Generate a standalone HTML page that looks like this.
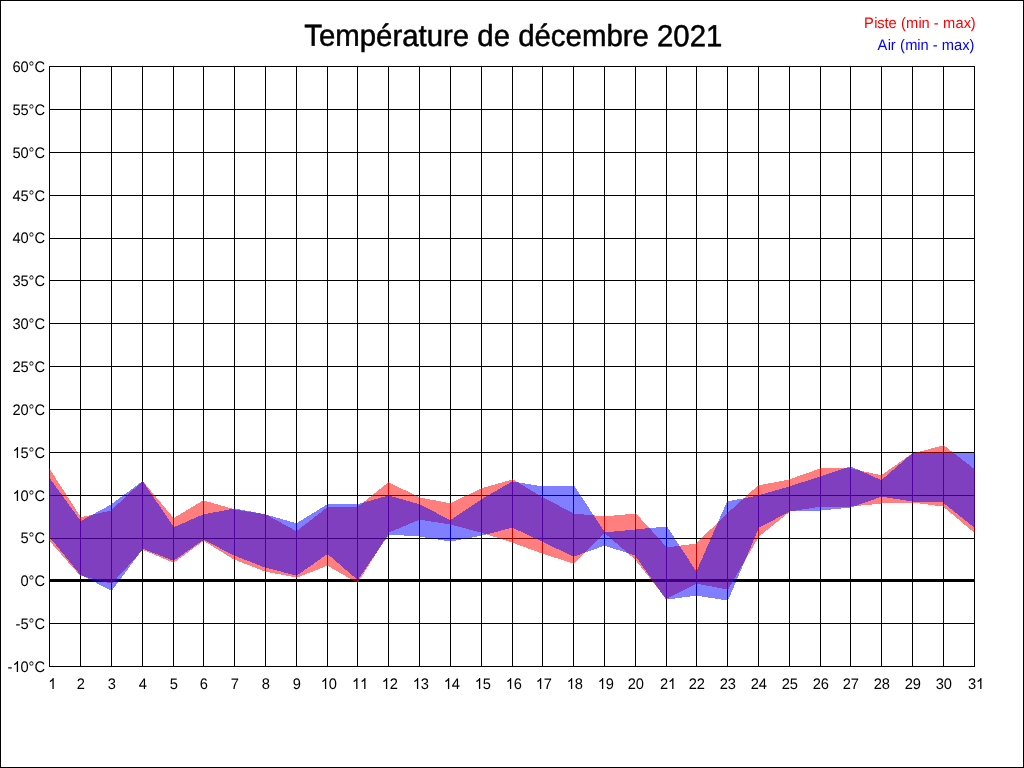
<!DOCTYPE html>
<html><head><meta charset="utf-8">
<style>
html,body{margin:0;padding:0;background:#fff;}
body{width:1024px;height:768px;overflow:hidden;position:relative;}
svg{position:absolute;left:0;top:0;}
#t{will-change:transform;}
text{font-family:"Liberation Sans",sans-serif;}
</style></head><body>
<svg width="1024" height="768" viewBox="0 0 1024 768">
<rect x="0" y="0" width="1024" height="768" fill="#fff"/>
<g fill="#000" shape-rendering="crispEdges">
<rect x="0" y="0" width="1024" height="1"/>
<rect x="0" y="767" width="1024" height="1"/>
<rect x="0" y="0" width="1" height="768"/>
<rect x="1023" y="0" width="1" height="768"/>
<rect x="49" y="66" width="1" height="601"/><rect x="80" y="66" width="1" height="601"/><rect x="111" y="66" width="1" height="601"/><rect x="142" y="66" width="1" height="601"/><rect x="173" y="66" width="1" height="601"/><rect x="203" y="66" width="1" height="601"/><rect x="234" y="66" width="1" height="601"/><rect x="265" y="66" width="1" height="601"/><rect x="296" y="66" width="1" height="601"/><rect x="327" y="66" width="1" height="601"/><rect x="357" y="66" width="1" height="601"/><rect x="388" y="66" width="1" height="601"/><rect x="419" y="66" width="1" height="601"/><rect x="450" y="66" width="1" height="601"/><rect x="481" y="66" width="1" height="601"/><rect x="512" y="66" width="1" height="601"/><rect x="542" y="66" width="1" height="601"/><rect x="573" y="66" width="1" height="601"/><rect x="604" y="66" width="1" height="601"/><rect x="635" y="66" width="1" height="601"/><rect x="666" y="66" width="1" height="601"/><rect x="696" y="66" width="1" height="601"/><rect x="727" y="66" width="1" height="601"/><rect x="758" y="66" width="1" height="601"/><rect x="789" y="66" width="1" height="601"/><rect x="820" y="66" width="1" height="601"/><rect x="850" y="66" width="1" height="601"/><rect x="881" y="66" width="1" height="601"/><rect x="912" y="66" width="1" height="601"/><rect x="943" y="66" width="1" height="601"/><rect x="974" y="66" width="1" height="601"/><rect x="49" y="66" width="926" height="1"/><rect x="49" y="109" width="926" height="1"/><rect x="49" y="152" width="926" height="1"/><rect x="49" y="195" width="926" height="1"/><rect x="49" y="238" width="926" height="1"/><rect x="49" y="280" width="926" height="1"/><rect x="49" y="323" width="926" height="1"/><rect x="49" y="366" width="926" height="1"/><rect x="49" y="409" width="926" height="1"/><rect x="49" y="452" width="926" height="1"/><rect x="49" y="495" width="926" height="1"/><rect x="49" y="538" width="926" height="1"/><rect x="49" y="579" width="926" height="3"/><rect x="49" y="623" width="926" height="1"/><rect x="49" y="666" width="926" height="1"/>
</g>
<g shape-rendering="crispEdges">
<path fill="rgba(255,0,0,0.5)" d="M49 469h1v1h-1zM49 470h2v1h-2zM49 471h2v1h-2zM49 472h3v1h-3zM49 473h4v1h-4zM49 474h4v1h-4zM49 475h5v1h-5zM49 476h6v1h-6zM49 477h6v1h-6zM49 478h7v1h-7zM49 479h7v1h-7zM49 480h8v1h-8zM49 481h9v1h-9zM49 482h9v1h-9zM49 483h10v1h-10zM49 484h11v1h-11zM49 485h11v1h-11zM49 486h12v1h-12zM49 487h13v1h-13zM49 488h13v1h-13zM49 489h14v1h-14zM49 490h15v1h-15zM49 491h15v1h-15zM49 492h16v1h-16zM49 493h17v1h-17zM49 494h17v1h-17zM49 495h18v1h-18zM49 496h18v1h-18zM49 497h19v1h-19zM49 498h20v1h-20zM49 499h20v1h-20zM49 500h21v1h-21zM49 501h22v1h-22zM49 502h22v1h-22zM49 503h23v1h-23zM49 504h24v1h-24zM49 505h24v1h-24zM49 506h25v1h-25zM49 507h26v1h-26zM49 508h26v1h-26zM49 509h27v1h-27zM49 510h27v1h-27zM49 511h28v1h-28zM49 512h29v1h-29zM49 513h29v1h-29zM49 514h30v1h-30zM49 515h31v1h-31zM49 516h31v1h-31zM49 517h32v1h-32zM49 518h32v1h-32zM49 519h32v1h-32zM49 520h32v1h-32zM49 521h32v1h-32zM49 522h32v1h-32zM49 523h32v1h-32zM49 524h32v1h-32zM49 525h32v1h-32zM49 526h32v1h-32zM49 527h32v1h-32zM49 528h32v1h-32zM49 529h32v1h-32zM49 530h32v1h-32zM49 531h32v1h-32zM49 532h32v1h-32zM49 533h32v1h-32zM49 534h32v1h-32zM49 535h32v1h-32zM49 536h32v1h-32zM49 537h32v1h-32zM49 538h32v1h-32zM49 539h32v1h-32zM49 540h32v1h-32zM50 541h31v1h-31zM51 542h30v1h-30zM52 543h29v1h-29zM53 544h28v1h-28zM53 545h28v1h-28zM54 546h27v1h-27zM55 547h26v1h-26zM56 548h25v1h-25zM57 549h24v1h-24zM58 550h23v1h-23zM59 551h22v1h-22zM60 552h21v1h-21zM61 553h20v1h-20zM61 554h20v1h-20zM62 555h19v1h-19zM63 556h18v1h-18zM64 557h17v1h-17zM65 558h16v1h-16zM66 559h15v1h-15zM67 560h14v1h-14zM68 561h13v1h-13zM68 562h13v1h-13zM69 563h12v1h-12zM70 564h11v1h-11zM71 565h10v1h-10zM72 566h9v1h-9zM73 567h8v1h-8zM74 568h7v1h-7zM75 569h6v1h-6zM76 570h5v1h-5zM76 571h5v1h-5zM77 572h4v1h-4zM78 573h3v1h-3zM79 574h2v1h-2zM80 575h1v1h-1z"/>
<path fill="rgba(0,0,255,0.5)" d="M49 478h1v1h-1zM49 479h2v1h-2zM49 480h2v1h-2zM49 481h3v1h-3zM49 482h4v1h-4zM49 483h5v1h-5zM49 484h5v1h-5zM49 485h6v1h-6zM49 486h7v1h-7zM49 487h7v1h-7zM49 488h8v1h-8zM49 489h9v1h-9zM49 490h10v1h-10zM49 491h10v1h-10zM49 492h11v1h-11zM49 493h12v1h-12zM49 494h13v1h-13zM49 495h13v1h-13zM49 496h14v1h-14zM49 497h15v1h-15zM49 498h15v1h-15zM49 499h16v1h-16zM49 500h17v1h-17zM49 501h18v1h-18zM49 502h18v1h-18zM49 503h19v1h-19zM49 504h20v1h-20zM49 505h20v1h-20zM49 506h21v1h-21zM49 507h22v1h-22zM49 508h23v1h-23zM49 509h23v1h-23zM49 510h24v1h-24zM49 511h25v1h-25zM49 512h26v1h-26zM49 513h26v1h-26zM49 514h27v1h-27zM49 515h28v1h-28zM49 516h28v1h-28zM49 517h29v1h-29zM49 518h30v1h-30zM49 519h31v1h-31zM49 520h31v1h-31zM49 521h32v1h-32zM49 522h32v1h-32zM49 523h32v1h-32zM49 524h32v1h-32zM49 525h32v1h-32zM49 526h32v1h-32zM49 527h32v1h-32zM49 528h32v1h-32zM49 529h32v1h-32zM49 530h32v1h-32zM49 531h32v1h-32zM49 532h32v1h-32zM49 533h32v1h-32zM49 534h32v1h-32zM49 535h32v1h-32zM49 536h32v1h-32zM50 537h31v1h-31zM51 538h30v1h-30zM51 539h30v1h-30zM52 540h29v1h-29zM53 541h28v1h-28zM54 542h27v1h-27zM55 543h26v1h-26zM56 544h25v1h-25zM56 545h25v1h-25zM57 546h24v1h-24zM58 547h23v1h-23zM59 548h22v1h-22zM60 549h21v1h-21zM60 550h21v1h-21zM61 551h20v1h-20zM62 552h19v1h-19zM63 553h18v1h-18zM64 554h17v1h-17zM65 555h16v1h-16zM65 556h16v1h-16zM66 557h15v1h-15zM67 558h14v1h-14zM68 559h13v1h-13zM69 560h12v1h-12zM69 561h12v1h-12zM70 562h11v1h-11zM71 563h10v1h-10zM72 564h9v1h-9zM73 565h8v1h-8zM73 566h8v1h-8zM74 567h7v1h-7zM75 568h6v1h-6zM76 569h5v1h-5zM77 570h4v1h-4zM78 571h3v1h-3zM78 572h3v1h-3zM79 573h2v1h-2zM80 574h1v1h-1z"/>
<path fill="rgba(255,0,0,0.5)" d="M111 510h1v1h-1zM107 511h5v1h-5zM102 512h10v1h-10zM98 513h14v1h-14zM93 514h19v1h-19zM89 515h23v1h-23zM84 516h28v1h-28zM80 517h32v1h-32zM80 518h32v1h-32zM80 519h32v1h-32zM80 520h32v1h-32zM80 521h32v1h-32zM80 522h32v1h-32zM80 523h32v1h-32zM80 524h32v1h-32zM80 525h32v1h-32zM80 526h32v1h-32zM80 527h32v1h-32zM80 528h32v1h-32zM80 529h32v1h-32zM80 530h32v1h-32zM80 531h32v1h-32zM80 532h32v1h-32zM80 533h32v1h-32zM80 534h32v1h-32zM80 535h32v1h-32zM80 536h32v1h-32zM80 537h32v1h-32zM80 538h32v1h-32zM80 539h32v1h-32zM80 540h32v1h-32zM80 541h32v1h-32zM80 542h32v1h-32zM80 543h32v1h-32zM80 544h32v1h-32zM80 545h32v1h-32zM80 546h32v1h-32zM80 547h32v1h-32zM80 548h32v1h-32zM80 549h32v1h-32zM80 550h32v1h-32zM80 551h32v1h-32zM80 552h32v1h-32zM80 553h32v1h-32zM80 554h32v1h-32zM80 555h32v1h-32zM80 556h32v1h-32zM80 557h32v1h-32zM80 558h32v1h-32zM80 559h32v1h-32zM80 560h32v1h-32zM80 561h32v1h-32zM80 562h32v1h-32zM80 563h32v1h-32zM80 564h32v1h-32zM80 565h32v1h-32zM80 566h32v1h-32zM80 567h32v1h-32zM80 568h32v1h-32zM80 569h32v1h-32zM80 570h32v1h-32zM80 571h32v1h-32zM80 572h32v1h-32zM80 573h32v1h-32zM80 574h32v1h-32zM80 575h32v1h-32zM84 576h28v1h-28zM88 577h24v1h-24zM92 578h20v1h-20zM96 579h16v1h-16zM99 580h13v1h-13zM103 581h9v1h-9zM107 582h5v1h-5zM111 583h1v1h-1z"/>
<path fill="rgba(0,0,255,0.5)" d="M111 504h1v1h-1zM109 505h3v1h-3zM107 506h5v1h-5zM106 507h6v1h-6zM104 508h8v1h-8zM102 509h10v1h-10zM100 510h12v1h-12zM98 511h14v1h-14zM96 512h16v1h-16zM95 513h17v1h-17zM93 514h19v1h-19zM91 515h21v1h-21zM89 516h23v1h-23zM87 517h25v1h-25zM85 518h27v1h-27zM84 519h28v1h-28zM82 520h30v1h-30zM80 521h32v1h-32zM80 522h32v1h-32zM80 523h32v1h-32zM80 524h32v1h-32zM80 525h32v1h-32zM80 526h32v1h-32zM80 527h32v1h-32zM80 528h32v1h-32zM80 529h32v1h-32zM80 530h32v1h-32zM80 531h32v1h-32zM80 532h32v1h-32zM80 533h32v1h-32zM80 534h32v1h-32zM80 535h32v1h-32zM80 536h32v1h-32zM80 537h32v1h-32zM80 538h32v1h-32zM80 539h32v1h-32zM80 540h32v1h-32zM80 541h32v1h-32zM80 542h32v1h-32zM80 543h32v1h-32zM80 544h32v1h-32zM80 545h32v1h-32zM80 546h32v1h-32zM80 547h32v1h-32zM80 548h32v1h-32zM80 549h32v1h-32zM80 550h32v1h-32zM80 551h32v1h-32zM80 552h32v1h-32zM80 553h32v1h-32zM80 554h32v1h-32zM80 555h32v1h-32zM80 556h32v1h-32zM80 557h32v1h-32zM80 558h32v1h-32zM80 559h32v1h-32zM80 560h32v1h-32zM80 561h32v1h-32zM80 562h32v1h-32zM80 563h32v1h-32zM80 564h32v1h-32zM80 565h32v1h-32zM80 566h32v1h-32zM80 567h32v1h-32zM80 568h32v1h-32zM80 569h32v1h-32zM80 570h32v1h-32zM80 571h32v1h-32zM80 572h32v1h-32zM80 573h32v1h-32zM80 574h32v1h-32zM82 575h30v1h-30zM84 576h28v1h-28zM86 577h26v1h-26zM88 578h24v1h-24zM90 579h22v1h-22zM92 580h20v1h-20zM94 581h18v1h-18zM96 582h16v1h-16zM97 583h15v1h-15zM99 584h13v1h-13zM101 585h11v1h-11zM103 586h9v1h-9zM105 587h7v1h-7zM107 588h5v1h-5zM109 589h3v1h-3zM111 590h1v1h-1z"/>
<path fill="rgba(255,0,0,0.5)" d="M142 481h1v1h-1zM141 482h2v1h-2zM140 483h3v1h-3zM139 484h4v1h-4zM138 485h5v1h-5zM137 486h6v1h-6zM136 487h7v1h-7zM135 488h8v1h-8zM133 489h10v1h-10zM132 490h11v1h-11zM131 491h12v1h-12zM130 492h13v1h-13zM129 493h14v1h-14zM128 494h15v1h-15zM127 495h16v1h-16zM126 496h17v1h-17zM125 497h18v1h-18zM124 498h19v1h-19zM123 499h20v1h-20zM122 500h21v1h-21zM121 501h22v1h-22zM120 502h23v1h-23zM118 503h25v1h-25zM117 504h26v1h-26zM116 505h27v1h-27zM115 506h28v1h-28zM114 507h29v1h-29zM113 508h30v1h-30zM112 509h31v1h-31zM111 510h32v1h-32zM111 511h32v1h-32zM111 512h32v1h-32zM111 513h32v1h-32zM111 514h32v1h-32zM111 515h32v1h-32zM111 516h32v1h-32zM111 517h32v1h-32zM111 518h32v1h-32zM111 519h32v1h-32zM111 520h32v1h-32zM111 521h32v1h-32zM111 522h32v1h-32zM111 523h32v1h-32zM111 524h32v1h-32zM111 525h32v1h-32zM111 526h32v1h-32zM111 527h32v1h-32zM111 528h32v1h-32zM111 529h32v1h-32zM111 530h32v1h-32zM111 531h32v1h-32zM111 532h32v1h-32zM111 533h32v1h-32zM111 534h32v1h-32zM111 535h32v1h-32zM111 536h32v1h-32zM111 537h32v1h-32zM111 538h32v1h-32zM111 539h32v1h-32zM111 540h32v1h-32zM111 541h32v1h-32zM111 542h32v1h-32zM111 543h32v1h-32zM111 544h32v1h-32zM111 545h32v1h-32zM111 546h32v1h-32zM111 547h32v1h-32zM111 548h32v1h-32zM111 549h32v1h-32zM111 550h31v1h-31zM111 551h30v1h-30zM111 552h29v1h-29zM111 553h28v1h-28zM111 554h27v1h-27zM111 555h27v1h-27zM111 556h26v1h-26zM111 557h25v1h-25zM111 558h24v1h-24zM111 559h23v1h-23zM111 560h22v1h-22zM111 561h21v1h-21zM111 562h20v1h-20zM111 563h19v1h-19zM111 564h18v1h-18zM111 565h17v1h-17zM111 566h17v1h-17zM111 567h16v1h-16zM111 568h15v1h-15zM111 569h14v1h-14zM111 570h13v1h-13zM111 571h12v1h-12zM111 572h11v1h-11zM111 573h10v1h-10zM111 574h9v1h-9zM111 575h8v1h-8zM111 576h7v1h-7zM111 577h6v1h-6zM111 578h6v1h-6zM111 579h5v1h-5zM111 580h4v1h-4zM111 581h3v1h-3zM111 582h2v1h-2zM111 583h1v1h-1z"/>
<path fill="rgba(0,0,255,0.5)" d="M142 481h1v1h-1zM141 482h2v1h-2zM139 483h4v1h-4zM138 484h5v1h-5zM137 485h6v1h-6zM135 486h8v1h-8zM134 487h9v1h-9zM133 488h10v1h-10zM131 489h12v1h-12zM130 490h13v1h-13zM129 491h14v1h-14zM127 492h16v1h-16zM126 493h17v1h-17zM124 494h19v1h-19zM123 495h20v1h-20zM122 496h21v1h-21zM120 497h23v1h-23zM119 498h24v1h-24zM118 499h25v1h-25zM116 500h27v1h-27zM115 501h28v1h-28zM114 502h29v1h-29zM112 503h31v1h-31zM111 504h32v1h-32zM111 505h32v1h-32zM111 506h32v1h-32zM111 507h32v1h-32zM111 508h32v1h-32zM111 509h32v1h-32zM111 510h32v1h-32zM111 511h32v1h-32zM111 512h32v1h-32zM111 513h32v1h-32zM111 514h32v1h-32zM111 515h32v1h-32zM111 516h32v1h-32zM111 517h32v1h-32zM111 518h32v1h-32zM111 519h32v1h-32zM111 520h32v1h-32zM111 521h32v1h-32zM111 522h32v1h-32zM111 523h32v1h-32zM111 524h32v1h-32zM111 525h32v1h-32zM111 526h32v1h-32zM111 527h32v1h-32zM111 528h32v1h-32zM111 529h32v1h-32zM111 530h32v1h-32zM111 531h32v1h-32zM111 532h32v1h-32zM111 533h32v1h-32zM111 534h32v1h-32zM111 535h32v1h-32zM111 536h32v1h-32zM111 537h32v1h-32zM111 538h32v1h-32zM111 539h32v1h-32zM111 540h32v1h-32zM111 541h32v1h-32zM111 542h32v1h-32zM111 543h32v1h-32zM111 544h32v1h-32zM111 545h32v1h-32zM111 546h32v1h-32zM111 547h32v1h-32zM111 548h32v1h-32zM111 549h31v1h-31zM111 550h31v1h-31zM111 551h30v1h-30zM111 552h29v1h-29zM111 553h28v1h-28zM111 554h28v1h-28zM111 555h27v1h-27zM111 556h26v1h-26zM111 557h25v1h-25zM111 558h25v1h-25zM111 559h24v1h-24zM111 560h23v1h-23zM111 561h22v1h-22zM111 562h22v1h-22zM111 563h21v1h-21zM111 564h20v1h-20zM111 565h19v1h-19zM111 566h19v1h-19zM111 567h18v1h-18zM111 568h17v1h-17zM111 569h17v1h-17zM111 570h16v1h-16zM111 571h15v1h-15zM111 572h14v1h-14zM111 573h14v1h-14zM111 574h13v1h-13zM111 575h12v1h-12zM111 576h11v1h-11zM111 577h11v1h-11zM111 578h10v1h-10zM111 579h9v1h-9zM111 580h8v1h-8zM111 581h8v1h-8zM111 582h7v1h-7zM111 583h6v1h-6zM111 584h5v1h-5zM111 585h5v1h-5zM111 586h4v1h-4zM111 587h3v1h-3zM111 588h2v1h-2zM111 589h2v1h-2zM111 590h1v1h-1z"/>
<path fill="rgba(255,0,0,0.5)" d="M142 481h1v1h-1zM142 482h2v1h-2zM142 483h3v1h-3zM142 484h4v1h-4zM142 485h4v1h-4zM142 486h5v1h-5zM142 487h6v1h-6zM142 488h7v1h-7zM142 489h8v1h-8zM142 490h9v1h-9zM142 491h9v1h-9zM142 492h10v1h-10zM142 493h11v1h-11zM142 494h12v1h-12zM142 495h13v1h-13zM142 496h14v1h-14zM142 497h14v1h-14zM142 498h15v1h-15zM142 499h16v1h-16zM142 500h17v1h-17zM142 501h18v1h-18zM142 502h19v1h-19zM142 503h19v1h-19zM142 504h20v1h-20zM142 505h21v1h-21zM142 506h22v1h-22zM142 507h23v1h-23zM142 508h24v1h-24zM142 509h24v1h-24zM142 510h25v1h-25zM142 511h26v1h-26zM142 512h27v1h-27zM142 513h28v1h-28zM142 514h29v1h-29zM142 515h29v1h-29zM142 516h30v1h-30zM142 517h31v1h-31zM142 518h32v1h-32zM142 519h32v1h-32zM142 520h32v1h-32zM142 521h32v1h-32zM142 522h32v1h-32zM142 523h32v1h-32zM142 524h32v1h-32zM142 525h32v1h-32zM142 526h32v1h-32zM142 527h32v1h-32zM142 528h32v1h-32zM142 529h32v1h-32zM142 530h32v1h-32zM142 531h32v1h-32zM142 532h32v1h-32zM142 533h32v1h-32zM142 534h32v1h-32zM142 535h32v1h-32zM142 536h32v1h-32zM142 537h32v1h-32zM142 538h32v1h-32zM142 539h32v1h-32zM142 540h32v1h-32zM142 541h32v1h-32zM142 542h32v1h-32zM142 543h32v1h-32zM142 544h32v1h-32zM142 545h32v1h-32zM142 546h32v1h-32zM142 547h32v1h-32zM142 548h32v1h-32zM142 549h32v1h-32zM144 550h30v1h-30zM147 551h27v1h-27zM149 552h25v1h-25zM152 553h22v1h-22zM154 554h20v1h-20zM156 555h18v1h-18zM159 556h15v1h-15zM161 557h13v1h-13zM163 558h11v1h-11zM166 559h8v1h-8zM168 560h6v1h-6zM171 561h3v1h-3zM173 562h1v1h-1z"/>
<path fill="rgba(0,0,255,0.5)" d="M142 481h1v1h-1zM142 482h2v1h-2zM142 483h2v1h-2zM142 484h3v1h-3zM142 485h4v1h-4zM142 486h4v1h-4zM142 487h5v1h-5zM142 488h6v1h-6zM142 489h6v1h-6zM142 490h7v1h-7zM142 491h8v1h-8zM142 492h8v1h-8zM142 493h9v1h-9zM142 494h10v1h-10zM142 495h10v1h-10zM142 496h11v1h-11zM142 497h12v1h-12zM142 498h12v1h-12zM142 499h13v1h-13zM142 500h14v1h-14zM142 501h14v1h-14zM142 502h15v1h-15zM142 503h16v1h-16zM142 504h17v1h-17zM142 505h17v1h-17zM142 506h18v1h-18zM142 507h19v1h-19zM142 508h19v1h-19zM142 509h20v1h-20zM142 510h21v1h-21zM142 511h21v1h-21zM142 512h22v1h-22zM142 513h23v1h-23zM142 514h23v1h-23zM142 515h24v1h-24zM142 516h25v1h-25zM142 517h25v1h-25zM142 518h26v1h-26zM142 519h27v1h-27zM142 520h27v1h-27zM142 521h28v1h-28zM142 522h29v1h-29zM142 523h29v1h-29zM142 524h30v1h-30zM142 525h31v1h-31zM142 526h31v1h-31zM142 527h32v1h-32zM142 528h32v1h-32zM142 529h32v1h-32zM142 530h32v1h-32zM142 531h32v1h-32zM142 532h32v1h-32zM142 533h32v1h-32zM142 534h32v1h-32zM142 535h32v1h-32zM142 536h32v1h-32zM142 537h32v1h-32zM142 538h32v1h-32zM142 539h32v1h-32zM142 540h32v1h-32zM142 541h32v1h-32zM142 542h32v1h-32zM142 543h32v1h-32zM142 544h32v1h-32zM142 545h32v1h-32zM142 546h32v1h-32zM142 547h32v1h-32zM142 548h32v1h-32zM145 549h29v1h-29zM147 550h27v1h-27zM150 551h24v1h-24zM152 552h22v1h-22zM155 553h19v1h-19zM158 554h16v1h-16zM160 555h14v1h-14zM163 556h11v1h-11zM165 557h9v1h-9zM168 558h6v1h-6zM170 559h4v1h-4zM173 560h1v1h-1z"/>
<path fill="rgba(255,0,0,0.5)" d="M203 500h1v1h-1zM201 501h3v1h-3zM200 502h4v1h-4zM198 503h6v1h-6zM196 504h8v1h-8zM195 505h9v1h-9zM193 506h11v1h-11zM191 507h13v1h-13zM190 508h14v1h-14zM188 509h16v1h-16zM186 510h18v1h-18zM185 511h19v1h-19zM183 512h21v1h-21zM181 513h23v1h-23zM180 514h24v1h-24zM178 515h26v1h-26zM176 516h28v1h-28zM175 517h29v1h-29zM173 518h31v1h-31zM173 519h31v1h-31zM173 520h31v1h-31zM173 521h31v1h-31zM173 522h31v1h-31zM173 523h31v1h-31zM173 524h31v1h-31zM173 525h31v1h-31zM173 526h31v1h-31zM173 527h31v1h-31zM173 528h31v1h-31zM173 529h31v1h-31zM173 530h31v1h-31zM173 531h31v1h-31zM173 532h31v1h-31zM173 533h31v1h-31zM173 534h31v1h-31zM173 535h31v1h-31zM173 536h31v1h-31zM173 537h31v1h-31zM173 538h31v1h-31zM173 539h31v1h-31zM173 540h31v1h-31zM173 541h30v1h-30zM173 542h28v1h-28zM173 543h27v1h-27zM173 544h26v1h-26zM173 545h24v1h-24zM173 546h23v1h-23zM173 547h21v1h-21zM173 548h20v1h-20zM173 549h19v1h-19zM173 550h17v1h-17zM173 551h16v1h-16zM173 552h15v1h-15zM173 553h13v1h-13zM173 554h12v1h-12zM173 555h11v1h-11zM173 556h9v1h-9zM173 557h8v1h-8zM173 558h6v1h-6zM173 559h5v1h-5zM173 560h4v1h-4zM173 561h2v1h-2zM173 562h1v1h-1z"/>
<path fill="rgba(0,0,255,0.5)" d="M203 514h1v1h-1zM201 515h3v1h-3zM198 516h6v1h-6zM196 517h8v1h-8zM194 518h10v1h-10zM191 519h13v1h-13zM189 520h15v1h-15zM187 521h17v1h-17zM185 522h19v1h-19zM182 523h22v1h-22zM180 524h24v1h-24zM178 525h26v1h-26zM175 526h29v1h-29zM173 527h31v1h-31zM173 528h31v1h-31zM173 529h31v1h-31zM173 530h31v1h-31zM173 531h31v1h-31zM173 532h31v1h-31zM173 533h31v1h-31zM173 534h31v1h-31zM173 535h31v1h-31zM173 536h31v1h-31zM173 537h31v1h-31zM173 538h31v1h-31zM173 539h31v1h-31zM173 540h30v1h-30zM173 541h28v1h-28zM173 542h27v1h-27zM173 543h25v1h-25zM173 544h24v1h-24zM173 545h22v1h-22zM173 546h21v1h-21zM173 547h20v1h-20zM173 548h18v1h-18zM173 549h17v1h-17zM173 550h15v1h-15zM173 551h14v1h-14zM173 552h12v1h-12zM173 553h11v1h-11zM173 554h10v1h-10zM173 555h8v1h-8zM173 556h7v1h-7zM173 557h5v1h-5zM173 558h4v1h-4zM173 559h2v1h-2zM173 560h1v1h-1z"/>
<path fill="rgba(255,0,0,0.5)" d="M203 500h1v1h-1zM203 501h4v1h-4zM203 502h8v1h-8zM203 503h11v1h-11zM203 504h15v1h-15zM203 505h18v1h-18zM203 506h22v1h-22zM203 507h25v1h-25zM203 508h29v1h-29zM203 509h32v1h-32zM203 510h32v1h-32zM203 511h32v1h-32zM203 512h32v1h-32zM203 513h32v1h-32zM203 514h32v1h-32zM203 515h32v1h-32zM203 516h32v1h-32zM203 517h32v1h-32zM203 518h32v1h-32zM203 519h32v1h-32zM203 520h32v1h-32zM203 521h32v1h-32zM203 522h32v1h-32zM203 523h32v1h-32zM203 524h32v1h-32zM203 525h32v1h-32zM203 526h32v1h-32zM203 527h32v1h-32zM203 528h32v1h-32zM203 529h32v1h-32zM203 530h32v1h-32zM203 531h32v1h-32zM203 532h32v1h-32zM203 533h32v1h-32zM203 534h32v1h-32zM203 535h32v1h-32zM203 536h32v1h-32zM203 537h32v1h-32zM203 538h32v1h-32zM203 539h32v1h-32zM203 540h32v1h-32zM205 541h30v1h-30zM206 542h29v1h-29zM208 543h27v1h-27zM210 544h25v1h-25zM211 545h24v1h-24zM213 546h22v1h-22zM214 547h21v1h-21zM216 548h19v1h-19zM218 549h17v1h-17zM219 550h16v1h-16zM221 551h14v1h-14zM223 552h12v1h-12zM224 553h11v1h-11zM226 554h9v1h-9zM227 555h8v1h-8zM229 556h6v1h-6zM231 557h4v1h-4zM232 558h3v1h-3zM234 559h1v1h-1z"/>
<path fill="rgba(0,0,255,0.5)" d="M234 508h1v1h-1zM229 509h6v1h-6zM224 510h11v1h-11zM219 511h16v1h-16zM213 512h22v1h-22zM208 513h27v1h-27zM203 514h32v1h-32zM203 515h32v1h-32zM203 516h32v1h-32zM203 517h32v1h-32zM203 518h32v1h-32zM203 519h32v1h-32zM203 520h32v1h-32zM203 521h32v1h-32zM203 522h32v1h-32zM203 523h32v1h-32zM203 524h32v1h-32zM203 525h32v1h-32zM203 526h32v1h-32zM203 527h32v1h-32zM203 528h32v1h-32zM203 529h32v1h-32zM203 530h32v1h-32zM203 531h32v1h-32zM203 532h32v1h-32zM203 533h32v1h-32zM203 534h32v1h-32zM203 535h32v1h-32zM203 536h32v1h-32zM203 537h32v1h-32zM203 538h32v1h-32zM203 539h32v1h-32zM205 540h30v1h-30zM207 541h28v1h-28zM209 542h26v1h-26zM211 543h24v1h-24zM213 544h22v1h-22zM215 545h20v1h-20zM217 546h18v1h-18zM219 547h16v1h-16zM220 548h15v1h-15zM222 549h13v1h-13zM224 550h11v1h-11zM226 551h9v1h-9zM228 552h7v1h-7zM230 553h5v1h-5zM232 554h3v1h-3zM234 555h1v1h-1z"/>
<path fill="rgba(255,0,0,0.5)" d="M234 509h1v1h-1zM234 510h7v1h-7zM234 511h13v1h-13zM234 512h20v1h-20zM234 513h26v1h-26zM234 514h32v1h-32zM234 515h32v1h-32zM234 516h32v1h-32zM234 517h32v1h-32zM234 518h32v1h-32zM234 519h32v1h-32zM234 520h32v1h-32zM234 521h32v1h-32zM234 522h32v1h-32zM234 523h32v1h-32zM234 524h32v1h-32zM234 525h32v1h-32zM234 526h32v1h-32zM234 527h32v1h-32zM234 528h32v1h-32zM234 529h32v1h-32zM234 530h32v1h-32zM234 531h32v1h-32zM234 532h32v1h-32zM234 533h32v1h-32zM234 534h32v1h-32zM234 535h32v1h-32zM234 536h32v1h-32zM234 537h32v1h-32zM234 538h32v1h-32zM234 539h32v1h-32zM234 540h32v1h-32zM234 541h32v1h-32zM234 542h32v1h-32zM234 543h32v1h-32zM234 544h32v1h-32zM234 545h32v1h-32zM234 546h32v1h-32zM234 547h32v1h-32zM234 548h32v1h-32zM234 549h32v1h-32zM234 550h32v1h-32zM234 551h32v1h-32zM234 552h32v1h-32zM234 553h32v1h-32zM234 554h32v1h-32zM234 555h32v1h-32zM234 556h32v1h-32zM234 557h32v1h-32zM234 558h32v1h-32zM234 559h32v1h-32zM237 560h29v1h-29zM239 561h27v1h-27zM242 562h24v1h-24zM244 563h22v1h-22zM247 564h19v1h-19zM250 565h16v1h-16zM252 566h14v1h-14zM255 567h11v1h-11zM257 568h9v1h-9zM260 569h6v1h-6zM262 570h4v1h-4zM265 571h1v1h-1z"/>
<path fill="rgba(0,0,255,0.5)" d="M234 508h1v1h-1zM234 509h6v1h-6zM234 510h11v1h-11zM234 511h17v1h-17zM234 512h22v1h-22zM234 513h27v1h-27zM234 514h32v1h-32zM234 515h32v1h-32zM234 516h32v1h-32zM234 517h32v1h-32zM234 518h32v1h-32zM234 519h32v1h-32zM234 520h32v1h-32zM234 521h32v1h-32zM234 522h32v1h-32zM234 523h32v1h-32zM234 524h32v1h-32zM234 525h32v1h-32zM234 526h32v1h-32zM234 527h32v1h-32zM234 528h32v1h-32zM234 529h32v1h-32zM234 530h32v1h-32zM234 531h32v1h-32zM234 532h32v1h-32zM234 533h32v1h-32zM234 534h32v1h-32zM234 535h32v1h-32zM234 536h32v1h-32zM234 537h32v1h-32zM234 538h32v1h-32zM234 539h32v1h-32zM234 540h32v1h-32zM234 541h32v1h-32zM234 542h32v1h-32zM234 543h32v1h-32zM234 544h32v1h-32zM234 545h32v1h-32zM234 546h32v1h-32zM234 547h32v1h-32zM234 548h32v1h-32zM234 549h32v1h-32zM234 550h32v1h-32zM234 551h32v1h-32zM234 552h32v1h-32zM234 553h32v1h-32zM234 554h32v1h-32zM234 555h32v1h-32zM237 556h29v1h-29zM239 557h27v1h-27zM242 558h24v1h-24zM244 559h22v1h-22zM247 560h19v1h-19zM250 561h16v1h-16zM252 562h14v1h-14zM255 563h11v1h-11zM257 564h9v1h-9zM260 565h6v1h-6zM262 566h4v1h-4zM265 567h1v1h-1z"/>
<path fill="rgba(255,0,0,0.5)" d="M265 514h1v1h-1zM265 515h3v1h-3zM265 516h5v1h-5zM265 517h6v1h-6zM265 518h8v1h-8zM265 519h10v1h-10zM265 520h12v1h-12zM265 521h14v1h-14zM265 522h16v1h-16zM265 523h17v1h-17zM265 524h19v1h-19zM265 525h21v1h-21zM265 526h23v1h-23zM265 527h25v1h-25zM265 528h27v1h-27zM265 529h28v1h-28zM265 530h30v1h-30zM265 531h32v1h-32zM265 532h32v1h-32zM265 533h32v1h-32zM265 534h32v1h-32zM265 535h32v1h-32zM265 536h32v1h-32zM265 537h32v1h-32zM265 538h32v1h-32zM265 539h32v1h-32zM265 540h32v1h-32zM265 541h32v1h-32zM265 542h32v1h-32zM265 543h32v1h-32zM265 544h32v1h-32zM265 545h32v1h-32zM265 546h32v1h-32zM265 547h32v1h-32zM265 548h32v1h-32zM265 549h32v1h-32zM265 550h32v1h-32zM265 551h32v1h-32zM265 552h32v1h-32zM265 553h32v1h-32zM265 554h32v1h-32zM265 555h32v1h-32zM265 556h32v1h-32zM265 557h32v1h-32zM265 558h32v1h-32zM265 559h32v1h-32zM265 560h32v1h-32zM265 561h32v1h-32zM265 562h32v1h-32zM265 563h32v1h-32zM265 564h32v1h-32zM265 565h32v1h-32zM265 566h32v1h-32zM265 567h32v1h-32zM265 568h32v1h-32zM265 569h32v1h-32zM265 570h32v1h-32zM265 571h32v1h-32zM270 572h27v1h-27zM275 573h22v1h-22zM281 574h16v1h-16zM286 575h11v1h-11zM291 576h6v1h-6zM296 577h1v1h-1z"/>
<path fill="rgba(0,0,255,0.5)" d="M265 514h1v1h-1zM265 515h4v1h-4zM265 516h8v1h-8zM265 517h11v1h-11zM265 518h15v1h-15zM265 519h18v1h-18zM265 520h22v1h-22zM265 521h25v1h-25zM265 522h29v1h-29zM265 523h32v1h-32zM265 524h32v1h-32zM265 525h32v1h-32zM265 526h32v1h-32zM265 527h32v1h-32zM265 528h32v1h-32zM265 529h32v1h-32zM265 530h32v1h-32zM265 531h32v1h-32zM265 532h32v1h-32zM265 533h32v1h-32zM265 534h32v1h-32zM265 535h32v1h-32zM265 536h32v1h-32zM265 537h32v1h-32zM265 538h32v1h-32zM265 539h32v1h-32zM265 540h32v1h-32zM265 541h32v1h-32zM265 542h32v1h-32zM265 543h32v1h-32zM265 544h32v1h-32zM265 545h32v1h-32zM265 546h32v1h-32zM265 547h32v1h-32zM265 548h32v1h-32zM265 549h32v1h-32zM265 550h32v1h-32zM265 551h32v1h-32zM265 552h32v1h-32zM265 553h32v1h-32zM265 554h32v1h-32zM265 555h32v1h-32zM265 556h32v1h-32zM265 557h32v1h-32zM265 558h32v1h-32zM265 559h32v1h-32zM265 560h32v1h-32zM265 561h32v1h-32zM265 562h32v1h-32zM265 563h32v1h-32zM265 564h32v1h-32zM265 565h32v1h-32zM265 566h32v1h-32zM265 567h32v1h-32zM269 568h28v1h-28zM273 569h24v1h-24zM277 570h20v1h-20zM281 571h16v1h-16zM284 572h13v1h-13zM288 573h9v1h-9zM292 574h5v1h-5zM296 575h1v1h-1z"/>
<path fill="rgba(255,0,0,0.5)" d="M327 507h1v1h-1zM326 508h2v1h-2zM324 509h4v1h-4zM323 510h5v1h-5zM322 511h6v1h-6zM321 512h7v1h-7zM319 513h9v1h-9zM318 514h10v1h-10zM317 515h11v1h-11zM315 516h13v1h-13zM314 517h14v1h-14zM313 518h15v1h-15zM312 519h16v1h-16zM310 520h18v1h-18zM309 521h19v1h-19zM308 522h20v1h-20zM306 523h22v1h-22zM305 524h23v1h-23zM304 525h24v1h-24zM302 526h26v1h-26zM301 527h27v1h-27zM300 528h28v1h-28zM299 529h29v1h-29zM297 530h31v1h-31zM296 531h32v1h-32zM296 532h32v1h-32zM296 533h32v1h-32zM296 534h32v1h-32zM296 535h32v1h-32zM296 536h32v1h-32zM296 537h32v1h-32zM296 538h32v1h-32zM296 539h32v1h-32zM296 540h32v1h-32zM296 541h32v1h-32zM296 542h32v1h-32zM296 543h32v1h-32zM296 544h32v1h-32zM296 545h32v1h-32zM296 546h32v1h-32zM296 547h32v1h-32zM296 548h32v1h-32zM296 549h32v1h-32zM296 550h32v1h-32zM296 551h32v1h-32zM296 552h32v1h-32zM296 553h32v1h-32zM296 554h32v1h-32zM296 555h32v1h-32zM296 556h32v1h-32zM296 557h32v1h-32zM296 558h32v1h-32zM296 559h32v1h-32zM296 560h32v1h-32zM296 561h32v1h-32zM296 562h32v1h-32zM296 563h32v1h-32zM296 564h32v1h-32zM296 565h32v1h-32zM296 566h29v1h-29zM296 567h27v1h-27zM296 568h24v1h-24zM296 569h22v1h-22zM296 570h19v1h-19zM296 571h17v1h-17zM296 572h14v1h-14zM296 573h11v1h-11zM296 574h9v1h-9zM296 575h6v1h-6zM296 576h4v1h-4zM296 577h1v1h-1z"/>
<path fill="rgba(0,0,255,0.5)" d="M327 504h1v1h-1zM325 505h3v1h-3zM324 506h4v1h-4zM322 507h6v1h-6zM320 508h8v1h-8zM319 509h9v1h-9zM317 510h11v1h-11zM316 511h12v1h-12zM314 512h14v1h-14zM312 513h16v1h-16zM311 514h17v1h-17zM309 515h19v1h-19zM307 516h21v1h-21zM306 517h22v1h-22zM304 518h24v1h-24zM303 519h25v1h-25zM301 520h27v1h-27zM299 521h29v1h-29zM298 522h30v1h-30zM296 523h32v1h-32zM296 524h32v1h-32zM296 525h32v1h-32zM296 526h32v1h-32zM296 527h32v1h-32zM296 528h32v1h-32zM296 529h32v1h-32zM296 530h32v1h-32zM296 531h32v1h-32zM296 532h32v1h-32zM296 533h32v1h-32zM296 534h32v1h-32zM296 535h32v1h-32zM296 536h32v1h-32zM296 537h32v1h-32zM296 538h32v1h-32zM296 539h32v1h-32zM296 540h32v1h-32zM296 541h32v1h-32zM296 542h32v1h-32zM296 543h32v1h-32zM296 544h32v1h-32zM296 545h32v1h-32zM296 546h32v1h-32zM296 547h32v1h-32zM296 548h32v1h-32zM296 549h32v1h-32zM296 550h32v1h-32zM296 551h32v1h-32zM296 552h32v1h-32zM296 553h32v1h-32zM296 554h31v1h-31zM296 555h29v1h-29zM296 556h28v1h-28zM296 557h26v1h-26zM296 558h25v1h-25zM296 559h24v1h-24zM296 560h22v1h-22zM296 561h21v1h-21zM296 562h19v1h-19zM296 563h18v1h-18zM296 564h17v1h-17zM296 565h15v1h-15zM296 566h14v1h-14zM296 567h12v1h-12zM296 568h11v1h-11zM296 569h9v1h-9zM296 570h8v1h-8zM296 571h7v1h-7zM296 572h5v1h-5zM296 573h4v1h-4zM296 574h2v1h-2zM296 575h1v1h-1z"/>
<path fill="rgba(255,0,0,0.5)" d="M327 507h31v1h-31zM327 508h31v1h-31zM327 509h31v1h-31zM327 510h31v1h-31zM327 511h31v1h-31zM327 512h31v1h-31zM327 513h31v1h-31zM327 514h31v1h-31zM327 515h31v1h-31zM327 516h31v1h-31zM327 517h31v1h-31zM327 518h31v1h-31zM327 519h31v1h-31zM327 520h31v1h-31zM327 521h31v1h-31zM327 522h31v1h-31zM327 523h31v1h-31zM327 524h31v1h-31zM327 525h31v1h-31zM327 526h31v1h-31zM327 527h31v1h-31zM327 528h31v1h-31zM327 529h31v1h-31zM327 530h31v1h-31zM327 531h31v1h-31zM327 532h31v1h-31zM327 533h31v1h-31zM327 534h31v1h-31zM327 535h31v1h-31zM327 536h31v1h-31zM327 537h31v1h-31zM327 538h31v1h-31zM327 539h31v1h-31zM327 540h31v1h-31zM327 541h31v1h-31zM327 542h31v1h-31zM327 543h31v1h-31zM327 544h31v1h-31zM327 545h31v1h-31zM327 546h31v1h-31zM327 547h31v1h-31zM327 548h31v1h-31zM327 549h31v1h-31zM327 550h31v1h-31zM327 551h31v1h-31zM327 552h31v1h-31zM327 553h31v1h-31zM327 554h31v1h-31zM327 555h31v1h-31zM327 556h31v1h-31zM327 557h31v1h-31zM327 558h31v1h-31zM327 559h31v1h-31zM327 560h31v1h-31zM327 561h31v1h-31zM327 562h31v1h-31zM327 563h31v1h-31zM327 564h31v1h-31zM327 565h31v1h-31zM329 566h29v1h-29zM331 567h27v1h-27zM332 568h26v1h-26zM334 569h24v1h-24zM336 570h22v1h-22zM338 571h20v1h-20zM339 572h19v1h-19zM341 573h17v1h-17zM343 574h15v1h-15zM345 575h13v1h-13zM346 576h12v1h-12zM348 577h10v1h-10zM350 578h8v1h-8zM352 579h6v1h-6zM353 580h5v1h-5zM355 581h3v1h-3zM357 582h1v1h-1z"/>
<path fill="rgba(0,0,255,0.5)" d="M327 504h31v1h-31zM327 505h31v1h-31zM327 506h31v1h-31zM327 507h31v1h-31zM327 508h31v1h-31zM327 509h31v1h-31zM327 510h31v1h-31zM327 511h31v1h-31zM327 512h31v1h-31zM327 513h31v1h-31zM327 514h31v1h-31zM327 515h31v1h-31zM327 516h31v1h-31zM327 517h31v1h-31zM327 518h31v1h-31zM327 519h31v1h-31zM327 520h31v1h-31zM327 521h31v1h-31zM327 522h31v1h-31zM327 523h31v1h-31zM327 524h31v1h-31zM327 525h31v1h-31zM327 526h31v1h-31zM327 527h31v1h-31zM327 528h31v1h-31zM327 529h31v1h-31zM327 530h31v1h-31zM327 531h31v1h-31zM327 532h31v1h-31zM327 533h31v1h-31zM327 534h31v1h-31zM327 535h31v1h-31zM327 536h31v1h-31zM327 537h31v1h-31zM327 538h31v1h-31zM327 539h31v1h-31zM327 540h31v1h-31zM327 541h31v1h-31zM327 542h31v1h-31zM327 543h31v1h-31zM327 544h31v1h-31zM327 545h31v1h-31zM327 546h31v1h-31zM327 547h31v1h-31zM327 548h31v1h-31zM327 549h31v1h-31zM327 550h31v1h-31zM327 551h31v1h-31zM327 552h31v1h-31zM327 553h31v1h-31zM328 554h30v1h-30zM329 555h29v1h-29zM330 556h28v1h-28zM332 557h26v1h-26zM333 558h25v1h-25zM334 559h24v1h-24zM335 560h23v1h-23zM336 561h22v1h-22zM337 562h21v1h-21zM339 563h19v1h-19zM340 564h18v1h-18zM341 565h17v1h-17zM342 566h16v1h-16zM343 567h15v1h-15zM344 568h14v1h-14zM345 569h13v1h-13zM347 570h11v1h-11zM348 571h10v1h-10zM349 572h9v1h-9zM350 573h8v1h-8zM351 574h7v1h-7zM352 575h6v1h-6zM354 576h4v1h-4zM355 577h3v1h-3zM356 578h2v1h-2zM357 579h1v1h-1z"/>
<path fill="rgba(255,0,0,0.5)" d="M388 482h1v1h-1zM387 483h2v1h-2zM386 484h3v1h-3zM384 485h5v1h-5zM383 486h6v1h-6zM382 487h7v1h-7zM381 488h8v1h-8zM379 489h10v1h-10zM378 490h11v1h-11zM377 491h12v1h-12zM376 492h13v1h-13zM374 493h15v1h-15zM373 494h16v1h-16zM372 495h17v1h-17zM371 496h18v1h-18zM369 497h20v1h-20zM368 498h21v1h-21zM367 499h22v1h-22zM366 500h23v1h-23zM364 501h25v1h-25zM363 502h26v1h-26zM362 503h27v1h-27zM361 504h28v1h-28zM359 505h30v1h-30zM358 506h31v1h-31zM357 507h32v1h-32zM357 508h32v1h-32zM357 509h32v1h-32zM357 510h32v1h-32zM357 511h32v1h-32zM357 512h32v1h-32zM357 513h32v1h-32zM357 514h32v1h-32zM357 515h32v1h-32zM357 516h32v1h-32zM357 517h32v1h-32zM357 518h32v1h-32zM357 519h32v1h-32zM357 520h32v1h-32zM357 521h32v1h-32zM357 522h32v1h-32zM357 523h32v1h-32zM357 524h32v1h-32zM357 525h32v1h-32zM357 526h32v1h-32zM357 527h32v1h-32zM357 528h32v1h-32zM357 529h32v1h-32zM357 530h32v1h-32zM357 531h32v1h-32zM357 532h32v1h-32zM357 533h31v1h-31zM357 534h31v1h-31zM357 535h30v1h-30zM357 536h30v1h-30zM357 537h29v1h-29zM357 538h28v1h-28zM357 539h28v1h-28zM357 540h27v1h-27zM357 541h26v1h-26zM357 542h26v1h-26zM357 543h25v1h-25zM357 544h25v1h-25zM357 545h24v1h-24zM357 546h23v1h-23zM357 547h23v1h-23zM357 548h22v1h-22zM357 549h21v1h-21zM357 550h21v1h-21zM357 551h20v1h-20zM357 552h20v1h-20zM357 553h19v1h-19zM357 554h18v1h-18zM357 555h18v1h-18zM357 556h17v1h-17zM357 557h17v1h-17zM357 558h16v1h-16zM357 559h15v1h-15zM357 560h15v1h-15zM357 561h14v1h-14zM357 562h13v1h-13zM357 563h13v1h-13zM357 564h12v1h-12zM357 565h12v1h-12zM357 566h11v1h-11zM357 567h10v1h-10zM357 568h10v1h-10zM357 569h9v1h-9zM357 570h8v1h-8zM357 571h8v1h-8zM357 572h7v1h-7zM357 573h7v1h-7zM357 574h6v1h-6zM357 575h5v1h-5zM357 576h5v1h-5zM357 577h4v1h-4zM357 578h3v1h-3zM357 579h3v1h-3zM357 580h2v1h-2zM357 581h2v1h-2zM357 582h1v1h-1z"/>
<path fill="rgba(0,0,255,0.5)" d="M388 495h1v1h-1zM385 496h4v1h-4zM381 497h8v1h-8zM378 498h11v1h-11zM374 499h15v1h-15zM371 500h18v1h-18zM367 501h22v1h-22zM364 502h25v1h-25zM360 503h29v1h-29zM357 504h32v1h-32zM357 505h32v1h-32zM357 506h32v1h-32zM357 507h32v1h-32zM357 508h32v1h-32zM357 509h32v1h-32zM357 510h32v1h-32zM357 511h32v1h-32zM357 512h32v1h-32zM357 513h32v1h-32zM357 514h32v1h-32zM357 515h32v1h-32zM357 516h32v1h-32zM357 517h32v1h-32zM357 518h32v1h-32zM357 519h32v1h-32zM357 520h32v1h-32zM357 521h32v1h-32zM357 522h32v1h-32zM357 523h32v1h-32zM357 524h32v1h-32zM357 525h32v1h-32zM357 526h32v1h-32zM357 527h32v1h-32zM357 528h32v1h-32zM357 529h32v1h-32zM357 530h32v1h-32zM357 531h32v1h-32zM357 532h32v1h-32zM357 533h32v1h-32zM357 534h32v1h-32zM357 535h31v1h-31zM357 536h31v1h-31zM357 537h30v1h-30zM357 538h29v1h-29zM357 539h29v1h-29zM357 540h28v1h-28zM357 541h27v1h-27zM357 542h26v1h-26zM357 543h26v1h-26zM357 544h25v1h-25zM357 545h24v1h-24zM357 546h24v1h-24zM357 547h23v1h-23zM357 548h22v1h-22zM357 549h22v1h-22zM357 550h21v1h-21zM357 551h20v1h-20zM357 552h20v1h-20zM357 553h19v1h-19zM357 554h18v1h-18zM357 555h18v1h-18zM357 556h17v1h-17zM357 557h16v1h-16zM357 558h15v1h-15zM357 559h15v1h-15zM357 560h14v1h-14zM357 561h13v1h-13zM357 562h13v1h-13zM357 563h12v1h-12zM357 564h11v1h-11zM357 565h11v1h-11zM357 566h10v1h-10zM357 567h9v1h-9zM357 568h9v1h-9zM357 569h8v1h-8zM357 570h7v1h-7zM357 571h7v1h-7zM357 572h6v1h-6zM357 573h5v1h-5zM357 574h4v1h-4zM357 575h4v1h-4zM357 576h3v1h-3zM357 577h2v1h-2zM357 578h2v1h-2zM357 579h1v1h-1z"/>
<path fill="rgba(255,0,0,0.5)" d="M388 482h1v1h-1zM388 483h3v1h-3zM388 484h5v1h-5zM388 485h7v1h-7zM388 486h9v1h-9zM388 487h11v1h-11zM388 488h13v1h-13zM388 489h15v1h-15zM388 490h18v1h-18zM388 491h20v1h-20zM388 492h22v1h-22zM388 493h24v1h-24zM388 494h26v1h-26zM388 495h28v1h-28zM388 496h30v1h-30zM388 497h32v1h-32zM388 498h32v1h-32zM388 499h32v1h-32zM388 500h32v1h-32zM388 501h32v1h-32zM388 502h32v1h-32zM388 503h32v1h-32zM388 504h32v1h-32zM388 505h32v1h-32zM388 506h32v1h-32zM388 507h32v1h-32zM388 508h32v1h-32zM388 509h32v1h-32zM388 510h32v1h-32zM388 511h32v1h-32zM388 512h32v1h-32zM388 513h32v1h-32zM388 514h32v1h-32zM388 515h32v1h-32zM388 516h32v1h-32zM388 517h32v1h-32zM388 518h32v1h-32zM388 519h32v1h-32zM388 520h30v1h-30zM388 521h27v1h-27zM388 522h25v1h-25zM388 523h22v1h-22zM388 524h20v1h-20zM388 525h18v1h-18zM388 526h15v1h-15zM388 527h13v1h-13zM388 528h11v1h-11zM388 529h8v1h-8zM388 530h6v1h-6zM388 531h3v1h-3zM388 532h1v1h-1z"/>
<path fill="rgba(0,0,255,0.5)" d="M388 495h1v1h-1zM388 496h4v1h-4zM388 497h8v1h-8zM388 498h11v1h-11zM388 499h15v1h-15zM388 500h18v1h-18zM388 501h22v1h-22zM388 502h25v1h-25zM388 503h29v1h-29zM388 504h32v1h-32zM388 505h32v1h-32zM388 506h32v1h-32zM388 507h32v1h-32zM388 508h32v1h-32zM388 509h32v1h-32zM388 510h32v1h-32zM388 511h32v1h-32zM388 512h32v1h-32zM388 513h32v1h-32zM388 514h32v1h-32zM388 515h32v1h-32zM388 516h32v1h-32zM388 517h32v1h-32zM388 518h32v1h-32zM388 519h32v1h-32zM388 520h32v1h-32zM388 521h32v1h-32zM388 522h32v1h-32zM388 523h32v1h-32zM388 524h32v1h-32zM388 525h32v1h-32zM388 526h32v1h-32zM388 527h32v1h-32zM388 528h32v1h-32zM388 529h32v1h-32zM388 530h32v1h-32zM388 531h32v1h-32zM388 532h32v1h-32zM388 533h32v1h-32zM388 534h32v1h-32zM404 535h16v1h-16zM419 536h1v1h-1z"/>
<path fill="rgba(255,0,0,0.5)" d="M419 497h1v1h-1zM419 498h6v1h-6zM419 499h11v1h-11zM419 500h17v1h-17zM419 501h22v1h-22zM419 502h27v1h-27zM419 503h32v1h-32zM419 504h32v1h-32zM419 505h32v1h-32zM419 506h32v1h-32zM419 507h32v1h-32zM419 508h32v1h-32zM419 509h32v1h-32zM419 510h32v1h-32zM419 511h32v1h-32zM419 512h32v1h-32zM419 513h32v1h-32zM419 514h32v1h-32zM419 515h32v1h-32zM419 516h32v1h-32zM419 517h32v1h-32zM419 518h32v1h-32zM419 519h32v1h-32zM425 520h26v1h-26zM431 521h20v1h-20zM438 522h13v1h-13zM444 523h7v1h-7zM450 524h1v1h-1z"/>
<path fill="rgba(0,0,255,0.5)" d="M419 504h1v1h-1zM419 505h3v1h-3zM419 506h5v1h-5zM419 507h7v1h-7zM419 508h9v1h-9zM419 509h11v1h-11zM419 510h13v1h-13zM419 511h15v1h-15zM419 512h17v1h-17zM419 513h18v1h-18zM419 514h20v1h-20zM419 515h22v1h-22zM419 516h24v1h-24zM419 517h26v1h-26zM419 518h28v1h-28zM419 519h30v1h-30zM419 520h32v1h-32zM419 521h32v1h-32zM419 522h32v1h-32zM419 523h32v1h-32zM419 524h32v1h-32zM419 525h32v1h-32zM419 526h32v1h-32zM419 527h32v1h-32zM419 528h32v1h-32zM419 529h32v1h-32zM419 530h32v1h-32zM419 531h32v1h-32zM419 532h32v1h-32zM419 533h32v1h-32zM419 534h32v1h-32zM419 535h32v1h-32zM419 536h32v1h-32zM425 537h26v1h-26zM431 538h20v1h-20zM438 539h13v1h-13zM444 540h7v1h-7zM450 541h1v1h-1z"/>
<path fill="rgba(255,0,0,0.5)" d="M481 488h1v1h-1zM479 489h3v1h-3zM477 490h5v1h-5zM475 491h7v1h-7zM473 492h9v1h-9zM471 493h11v1h-11zM469 494h13v1h-13zM467 495h15v1h-15zM464 496h18v1h-18zM462 497h20v1h-20zM460 498h22v1h-22zM458 499h24v1h-24zM456 500h26v1h-26zM454 501h28v1h-28zM452 502h30v1h-30zM450 503h32v1h-32zM450 504h32v1h-32zM450 505h32v1h-32zM450 506h32v1h-32zM450 507h32v1h-32zM450 508h32v1h-32zM450 509h32v1h-32zM450 510h32v1h-32zM450 511h32v1h-32zM450 512h32v1h-32zM450 513h32v1h-32zM450 514h32v1h-32zM450 515h32v1h-32zM450 516h32v1h-32zM450 517h32v1h-32zM450 518h32v1h-32zM450 519h32v1h-32zM450 520h32v1h-32zM450 521h32v1h-32zM450 522h32v1h-32zM450 523h32v1h-32zM450 524h32v1h-32zM454 525h28v1h-28zM458 526h24v1h-24zM462 527h20v1h-20zM466 528h16v1h-16zM469 529h13v1h-13zM473 530h9v1h-9zM477 531h5v1h-5zM481 532h1v1h-1z"/>
<path fill="rgba(0,0,255,0.5)" d="M481 499h1v1h-1zM480 500h2v1h-2zM478 501h4v1h-4zM477 502h5v1h-5zM475 503h7v1h-7zM474 504h8v1h-8zM472 505h10v1h-10zM471 506h11v1h-11zM469 507h13v1h-13zM468 508h14v1h-14zM466 509h16v1h-16zM465 510h17v1h-17zM463 511h19v1h-19zM462 512h20v1h-20zM460 513h22v1h-22zM459 514h23v1h-23zM457 515h25v1h-25zM456 516h26v1h-26zM454 517h28v1h-28zM453 518h29v1h-29zM451 519h31v1h-31zM450 520h32v1h-32zM450 521h32v1h-32zM450 522h32v1h-32zM450 523h32v1h-32zM450 524h32v1h-32zM450 525h32v1h-32zM450 526h32v1h-32zM450 527h32v1h-32zM450 528h32v1h-32zM450 529h32v1h-32zM450 530h32v1h-32zM450 531h32v1h-32zM450 532h32v1h-32zM450 533h32v1h-32zM450 534h32v1h-32zM450 535h32v1h-32zM450 536h27v1h-27zM450 537h22v1h-22zM450 538h17v1h-17zM450 539h11v1h-11zM450 540h6v1h-6zM450 541h1v1h-1z"/>
<path fill="rgba(255,0,0,0.5)" d="M512 479h1v1h-1zM509 480h4v1h-4zM505 481h8v1h-8zM502 482h11v1h-11zM498 483h15v1h-15zM495 484h18v1h-18zM491 485h22v1h-22zM488 486h25v1h-25zM484 487h29v1h-29zM481 488h32v1h-32zM481 489h32v1h-32zM481 490h32v1h-32zM481 491h32v1h-32zM481 492h32v1h-32zM481 493h32v1h-32zM481 494h32v1h-32zM481 495h32v1h-32zM481 496h32v1h-32zM481 497h32v1h-32zM481 498h32v1h-32zM481 499h32v1h-32zM481 500h32v1h-32zM481 501h32v1h-32zM481 502h32v1h-32zM481 503h32v1h-32zM481 504h32v1h-32zM481 505h32v1h-32zM481 506h32v1h-32zM481 507h32v1h-32zM481 508h32v1h-32zM481 509h32v1h-32zM481 510h32v1h-32zM481 511h32v1h-32zM481 512h32v1h-32zM481 513h32v1h-32zM481 514h32v1h-32zM481 515h32v1h-32zM481 516h32v1h-32zM481 517h32v1h-32zM481 518h32v1h-32zM481 519h32v1h-32zM481 520h32v1h-32zM481 521h32v1h-32zM481 522h32v1h-32zM481 523h32v1h-32zM481 524h32v1h-32zM481 525h32v1h-32zM481 526h32v1h-32zM481 527h32v1h-32zM481 528h32v1h-32zM481 529h32v1h-32zM481 530h32v1h-32zM481 531h32v1h-32zM481 532h32v1h-32zM484 533h29v1h-29zM487 534h26v1h-26zM490 535h23v1h-23zM493 536h20v1h-20zM497 537h16v1h-16zM500 538h13v1h-13zM503 539h10v1h-10zM506 540h7v1h-7zM509 541h4v1h-4zM512 542h1v1h-1z"/>
<path fill="rgba(0,0,255,0.5)" d="M512 481h1v1h-1zM510 482h3v1h-3zM509 483h4v1h-4zM507 484h6v1h-6zM505 485h8v1h-8zM503 486h10v1h-10zM502 487h11v1h-11zM500 488h13v1h-13zM498 489h15v1h-15zM497 490h16v1h-16zM495 491h18v1h-18zM493 492h20v1h-20zM491 493h22v1h-22zM490 494h23v1h-23zM488 495h25v1h-25zM486 496h27v1h-27zM484 497h29v1h-29zM483 498h30v1h-30zM481 499h32v1h-32zM481 500h32v1h-32zM481 501h32v1h-32zM481 502h32v1h-32zM481 503h32v1h-32zM481 504h32v1h-32zM481 505h32v1h-32zM481 506h32v1h-32zM481 507h32v1h-32zM481 508h32v1h-32zM481 509h32v1h-32zM481 510h32v1h-32zM481 511h32v1h-32zM481 512h32v1h-32zM481 513h32v1h-32zM481 514h32v1h-32zM481 515h32v1h-32zM481 516h32v1h-32zM481 517h32v1h-32zM481 518h32v1h-32zM481 519h32v1h-32zM481 520h32v1h-32zM481 521h32v1h-32zM481 522h32v1h-32zM481 523h32v1h-32zM481 524h32v1h-32zM481 525h32v1h-32zM481 526h32v1h-32zM481 527h32v1h-32zM481 528h28v1h-28zM481 529h24v1h-24zM481 530h20v1h-20zM481 531h17v1h-17zM481 532h13v1h-13zM481 533h9v1h-9zM481 534h5v1h-5zM481 535h1v1h-1z"/>
<path fill="rgba(255,0,0,0.5)" d="M512 479h1v1h-1zM512 480h3v1h-3zM512 481h4v1h-4zM512 482h6v1h-6zM512 483h8v1h-8zM512 484h9v1h-9zM512 485h11v1h-11zM512 486h13v1h-13zM512 487h14v1h-14zM512 488h16v1h-16zM512 489h18v1h-18zM512 490h19v1h-19zM512 491h21v1h-21zM512 492h23v1h-23zM512 493h24v1h-24zM512 494h26v1h-26zM512 495h28v1h-28zM512 496h29v1h-29zM512 497h31v1h-31zM512 498h31v1h-31zM512 499h31v1h-31zM512 500h31v1h-31zM512 501h31v1h-31zM512 502h31v1h-31zM512 503h31v1h-31zM512 504h31v1h-31zM512 505h31v1h-31zM512 506h31v1h-31zM512 507h31v1h-31zM512 508h31v1h-31zM512 509h31v1h-31zM512 510h31v1h-31zM512 511h31v1h-31zM512 512h31v1h-31zM512 513h31v1h-31zM512 514h31v1h-31zM512 515h31v1h-31zM512 516h31v1h-31zM512 517h31v1h-31zM512 518h31v1h-31zM512 519h31v1h-31zM512 520h31v1h-31zM512 521h31v1h-31zM512 522h31v1h-31zM512 523h31v1h-31zM512 524h31v1h-31zM512 525h31v1h-31zM512 526h31v1h-31zM512 527h31v1h-31zM512 528h31v1h-31zM512 529h31v1h-31zM512 530h31v1h-31zM512 531h31v1h-31zM512 532h31v1h-31zM512 533h31v1h-31zM512 534h31v1h-31zM512 535h31v1h-31zM512 536h31v1h-31zM512 537h31v1h-31zM512 538h31v1h-31zM512 539h31v1h-31zM512 540h31v1h-31zM512 541h31v1h-31zM512 542h31v1h-31zM515 543h28v1h-28zM517 544h26v1h-26zM520 545h23v1h-23zM523 546h20v1h-20zM526 547h17v1h-17zM528 548h15v1h-15zM531 549h12v1h-12zM534 550h9v1h-9zM537 551h6v1h-6zM539 552h4v1h-4zM542 553h1v1h-1z"/>
<path fill="rgba(0,0,255,0.5)" d="M512 481h1v1h-1zM512 482h7v1h-7zM512 483h13v1h-13zM512 484h19v1h-19zM512 485h25v1h-25zM512 486h31v1h-31zM512 487h31v1h-31zM512 488h31v1h-31zM512 489h31v1h-31zM512 490h31v1h-31zM512 491h31v1h-31zM512 492h31v1h-31zM512 493h31v1h-31zM512 494h31v1h-31zM512 495h31v1h-31zM512 496h31v1h-31zM512 497h31v1h-31zM512 498h31v1h-31zM512 499h31v1h-31zM512 500h31v1h-31zM512 501h31v1h-31zM512 502h31v1h-31zM512 503h31v1h-31zM512 504h31v1h-31zM512 505h31v1h-31zM512 506h31v1h-31zM512 507h31v1h-31zM512 508h31v1h-31zM512 509h31v1h-31zM512 510h31v1h-31zM512 511h31v1h-31zM512 512h31v1h-31zM512 513h31v1h-31zM512 514h31v1h-31zM512 515h31v1h-31zM512 516h31v1h-31zM512 517h31v1h-31zM512 518h31v1h-31zM512 519h31v1h-31zM512 520h31v1h-31zM512 521h31v1h-31zM512 522h31v1h-31zM512 523h31v1h-31zM512 524h31v1h-31zM512 525h31v1h-31zM512 526h31v1h-31zM512 527h31v1h-31zM514 528h29v1h-29zM516 529h27v1h-27zM518 530h25v1h-25zM521 531h22v1h-22zM523 532h20v1h-20zM525 533h18v1h-18zM527 534h16v1h-16zM529 535h14v1h-14zM531 536h12v1h-12zM533 537h10v1h-10zM536 538h7v1h-7zM538 539h5v1h-5zM540 540h3v1h-3zM542 541h1v1h-1z"/>
<path fill="rgba(255,0,0,0.5)" d="M542 497h1v1h-1zM542 498h3v1h-3zM542 499h5v1h-5zM542 500h7v1h-7zM542 501h9v1h-9zM542 502h11v1h-11zM542 503h13v1h-13zM542 504h15v1h-15zM542 505h17v1h-17zM542 506h18v1h-18zM542 507h20v1h-20zM542 508h22v1h-22zM542 509h24v1h-24zM542 510h26v1h-26zM542 511h28v1h-28zM542 512h30v1h-30zM542 513h32v1h-32zM542 514h32v1h-32zM542 515h32v1h-32zM542 516h32v1h-32zM542 517h32v1h-32zM542 518h32v1h-32zM542 519h32v1h-32zM542 520h32v1h-32zM542 521h32v1h-32zM542 522h32v1h-32zM542 523h32v1h-32zM542 524h32v1h-32zM542 525h32v1h-32zM542 526h32v1h-32zM542 527h32v1h-32zM542 528h32v1h-32zM542 529h32v1h-32zM542 530h32v1h-32zM542 531h32v1h-32zM542 532h32v1h-32zM542 533h32v1h-32zM542 534h32v1h-32zM542 535h32v1h-32zM542 536h32v1h-32zM542 537h32v1h-32zM542 538h32v1h-32zM542 539h32v1h-32zM542 540h32v1h-32zM542 541h32v1h-32zM542 542h32v1h-32zM542 543h32v1h-32zM542 544h32v1h-32zM542 545h32v1h-32zM542 546h32v1h-32zM542 547h32v1h-32zM542 548h32v1h-32zM542 549h32v1h-32zM542 550h32v1h-32zM542 551h32v1h-32zM542 552h32v1h-32zM542 553h32v1h-32zM545 554h29v1h-29zM548 555h26v1h-26zM551 556h23v1h-23zM554 557h20v1h-20zM558 558h16v1h-16zM561 559h13v1h-13zM564 560h10v1h-10zM567 561h7v1h-7zM570 562h4v1h-4zM573 563h1v1h-1z"/>
<path fill="rgba(0,0,255,0.5)" d="M573 485h1v1h-1zM542 486h32v1h-32zM542 487h32v1h-32zM542 488h32v1h-32zM542 489h32v1h-32zM542 490h32v1h-32zM542 491h32v1h-32zM542 492h32v1h-32zM542 493h32v1h-32zM542 494h32v1h-32zM542 495h32v1h-32zM542 496h32v1h-32zM542 497h32v1h-32zM542 498h32v1h-32zM542 499h32v1h-32zM542 500h32v1h-32zM542 501h32v1h-32zM542 502h32v1h-32zM542 503h32v1h-32zM542 504h32v1h-32zM542 505h32v1h-32zM542 506h32v1h-32zM542 507h32v1h-32zM542 508h32v1h-32zM542 509h32v1h-32zM542 510h32v1h-32zM542 511h32v1h-32zM542 512h32v1h-32zM542 513h32v1h-32zM542 514h32v1h-32zM542 515h32v1h-32zM542 516h32v1h-32zM542 517h32v1h-32zM542 518h32v1h-32zM542 519h32v1h-32zM542 520h32v1h-32zM542 521h32v1h-32zM542 522h32v1h-32zM542 523h32v1h-32zM542 524h32v1h-32zM542 525h32v1h-32zM542 526h32v1h-32zM542 527h32v1h-32zM542 528h32v1h-32zM542 529h32v1h-32zM542 530h32v1h-32zM542 531h32v1h-32zM542 532h32v1h-32zM542 533h32v1h-32zM542 534h32v1h-32zM542 535h32v1h-32zM542 536h32v1h-32zM542 537h32v1h-32zM542 538h32v1h-32zM542 539h32v1h-32zM542 540h32v1h-32zM542 541h32v1h-32zM544 542h30v1h-30zM546 543h28v1h-28zM548 544h26v1h-26zM550 545h24v1h-24zM552 546h22v1h-22zM554 547h20v1h-20zM556 548h18v1h-18zM559 549h15v1h-15zM561 550h13v1h-13zM563 551h11v1h-11zM565 552h9v1h-9zM567 553h7v1h-7zM569 554h5v1h-5zM571 555h3v1h-3zM573 556h1v1h-1z"/>
<path fill="rgba(255,0,0,0.5)" d="M573 513h1v1h-1zM573 514h11v1h-11zM573 515h22v1h-22zM573 516h32v1h-32zM573 517h32v1h-32zM573 518h32v1h-32zM573 519h32v1h-32zM573 520h32v1h-32zM573 521h32v1h-32zM573 522h32v1h-32zM573 523h32v1h-32zM573 524h32v1h-32zM573 525h32v1h-32zM573 526h32v1h-32zM573 527h32v1h-32zM573 528h32v1h-32zM573 529h32v1h-32zM573 530h32v1h-32zM573 531h32v1h-32zM573 532h32v1h-32zM573 533h31v1h-31zM573 534h30v1h-30zM573 535h29v1h-29zM573 536h28v1h-28zM573 537h27v1h-27zM573 538h26v1h-26zM573 539h25v1h-25zM573 540h24v1h-24zM573 541h23v1h-23zM573 542h22v1h-22zM573 543h21v1h-21zM573 544h20v1h-20zM573 545h19v1h-19zM573 546h18v1h-18zM573 547h17v1h-17zM573 548h16v1h-16zM573 549h15v1h-15zM573 550h14v1h-14zM573 551h13v1h-13zM573 552h12v1h-12zM573 553h11v1h-11zM573 554h10v1h-10zM573 555h9v1h-9zM573 556h8v1h-8zM573 557h7v1h-7zM573 558h6v1h-6zM573 559h5v1h-5zM573 560h4v1h-4zM573 561h3v1h-3zM573 562h2v1h-2zM573 563h1v1h-1z"/>
<path fill="rgba(0,0,255,0.5)" d="M573 485h1v1h-1zM573 486h2v1h-2zM573 487h2v1h-2zM573 488h3v1h-3zM573 489h4v1h-4zM573 490h4v1h-4zM573 491h5v1h-5zM573 492h6v1h-6zM573 493h6v1h-6zM573 494h7v1h-7zM573 495h8v1h-8zM573 496h8v1h-8zM573 497h9v1h-9zM573 498h10v1h-10zM573 499h10v1h-10zM573 500h11v1h-11zM573 501h12v1h-12zM573 502h12v1h-12zM573 503h13v1h-13zM573 504h14v1h-14zM573 505h14v1h-14zM573 506h15v1h-15zM573 507h16v1h-16zM573 508h16v1h-16zM573 509h17v1h-17zM573 510h17v1h-17zM573 511h18v1h-18zM573 512h19v1h-19zM573 513h19v1h-19zM573 514h20v1h-20zM573 515h21v1h-21zM573 516h21v1h-21zM573 517h22v1h-22zM573 518h23v1h-23zM573 519h23v1h-23zM573 520h24v1h-24zM573 521h25v1h-25zM573 522h25v1h-25zM573 523h26v1h-26zM573 524h27v1h-27zM573 525h27v1h-27zM573 526h28v1h-28zM573 527h29v1h-29zM573 528h29v1h-29zM573 529h30v1h-30zM573 530h31v1h-31zM573 531h31v1h-31zM573 532h32v1h-32zM573 533h32v1h-32zM573 534h32v1h-32zM573 535h32v1h-32zM573 536h32v1h-32zM573 537h32v1h-32zM573 538h32v1h-32zM573 539h32v1h-32zM573 540h32v1h-32zM573 541h32v1h-32zM573 542h32v1h-32zM573 543h32v1h-32zM573 544h32v1h-32zM573 545h32v1h-32zM573 546h29v1h-29zM573 547h26v1h-26zM573 548h24v1h-24zM573 549h21v1h-21zM573 550h18v1h-18zM573 551h15v1h-15zM573 552h12v1h-12zM573 553h9v1h-9zM573 554h7v1h-7zM573 555h4v1h-4zM573 556h1v1h-1z"/>
<path fill="rgba(255,0,0,0.5)" d="M635 513h1v1h-1zM625 514h11v1h-11zM614 515h22v1h-22zM604 516h32v1h-32zM604 517h32v1h-32zM604 518h32v1h-32zM604 519h32v1h-32zM604 520h32v1h-32zM604 521h32v1h-32zM604 522h32v1h-32zM604 523h32v1h-32zM604 524h32v1h-32zM604 525h32v1h-32zM604 526h32v1h-32zM604 527h32v1h-32zM604 528h32v1h-32zM604 529h32v1h-32zM604 530h32v1h-32zM604 531h32v1h-32zM604 532h32v1h-32zM605 533h31v1h-31zM606 534h30v1h-30zM607 535h29v1h-29zM609 536h27v1h-27zM610 537h26v1h-26zM611 538h25v1h-25zM612 539h24v1h-24zM613 540h23v1h-23zM614 541h22v1h-22zM615 542h21v1h-21zM617 543h19v1h-19zM618 544h18v1h-18zM619 545h17v1h-17zM620 546h16v1h-16zM621 547h15v1h-15zM622 548h14v1h-14zM624 549h12v1h-12zM625 550h11v1h-11zM626 551h10v1h-10zM627 552h9v1h-9zM628 553h8v1h-8zM629 554h7v1h-7zM630 555h6v1h-6zM632 556h4v1h-4zM633 557h3v1h-3zM634 558h2v1h-2zM635 559h1v1h-1z"/>
<path fill="rgba(0,0,255,0.5)" d="M635 529h1v1h-1zM625 530h11v1h-11zM614 531h22v1h-22zM604 532h32v1h-32zM604 533h32v1h-32zM604 534h32v1h-32zM604 535h32v1h-32zM604 536h32v1h-32zM604 537h32v1h-32zM604 538h32v1h-32zM604 539h32v1h-32zM604 540h32v1h-32zM604 541h32v1h-32zM604 542h32v1h-32zM604 543h32v1h-32zM604 544h32v1h-32zM604 545h32v1h-32zM607 546h29v1h-29zM610 547h26v1h-26zM613 548h23v1h-23zM616 549h20v1h-20zM620 550h16v1h-16zM623 551h13v1h-13zM626 552h10v1h-10zM629 553h7v1h-7zM632 554h4v1h-4zM635 555h1v1h-1z"/>
<path fill="rgba(255,0,0,0.5)" d="M635 513h1v1h-1zM635 514h2v1h-2zM635 515h3v1h-3zM635 516h4v1h-4zM635 517h5v1h-5zM635 518h6v1h-6zM635 519h6v1h-6zM635 520h7v1h-7zM635 521h8v1h-8zM635 522h9v1h-9zM635 523h10v1h-10zM635 524h11v1h-11zM635 525h12v1h-12zM635 526h13v1h-13zM635 527h14v1h-14zM635 528h15v1h-15zM635 529h16v1h-16zM635 530h17v1h-17zM635 531h17v1h-17zM635 532h18v1h-18zM635 533h19v1h-19zM635 534h20v1h-20zM635 535h21v1h-21zM635 536h22v1h-22zM635 537h23v1h-23zM635 538h24v1h-24zM635 539h25v1h-25zM635 540h26v1h-26zM635 541h27v1h-27zM635 542h27v1h-27zM635 543h28v1h-28zM635 544h29v1h-29zM635 545h30v1h-30zM635 546h31v1h-31zM635 547h32v1h-32zM635 548h32v1h-32zM635 549h32v1h-32zM635 550h32v1h-32zM635 551h32v1h-32zM635 552h32v1h-32zM635 553h32v1h-32zM635 554h32v1h-32zM635 555h32v1h-32zM635 556h32v1h-32zM635 557h32v1h-32zM635 558h32v1h-32zM635 559h32v1h-32zM636 560h31v1h-31zM637 561h30v1h-30zM637 562h30v1h-30zM638 563h29v1h-29zM639 564h28v1h-28zM640 565h27v1h-27zM641 566h26v1h-26zM641 567h26v1h-26zM642 568h25v1h-25zM643 569h24v1h-24zM644 570h23v1h-23zM645 571h22v1h-22zM645 572h22v1h-22zM646 573h21v1h-21zM647 574h20v1h-20zM648 575h19v1h-19zM649 576h18v1h-18zM649 577h18v1h-18zM650 578h17v1h-17zM651 579h16v1h-16zM652 580h15v1h-15zM652 581h15v1h-15zM653 582h14v1h-14zM654 583h13v1h-13zM655 584h12v1h-12zM656 585h11v1h-11zM656 586h11v1h-11zM657 587h10v1h-10zM658 588h9v1h-9zM659 589h8v1h-8zM660 590h7v1h-7zM660 591h7v1h-7zM661 592h6v1h-6zM662 593h5v1h-5zM663 594h4v1h-4zM664 595h3v1h-3zM664 596h3v1h-3zM665 597h2v1h-2zM666 598h1v1h-1z"/>
<path fill="rgba(0,0,255,0.5)" d="M666 526h1v1h-1zM656 527h11v1h-11zM645 528h22v1h-22zM635 529h32v1h-32zM635 530h32v1h-32zM635 531h32v1h-32zM635 532h32v1h-32zM635 533h32v1h-32zM635 534h32v1h-32zM635 535h32v1h-32zM635 536h32v1h-32zM635 537h32v1h-32zM635 538h32v1h-32zM635 539h32v1h-32zM635 540h32v1h-32zM635 541h32v1h-32zM635 542h32v1h-32zM635 543h32v1h-32zM635 544h32v1h-32zM635 545h32v1h-32zM635 546h32v1h-32zM635 547h32v1h-32zM635 548h32v1h-32zM635 549h32v1h-32zM635 550h32v1h-32zM635 551h32v1h-32zM635 552h32v1h-32zM635 553h32v1h-32zM635 554h32v1h-32zM635 555h32v1h-32zM636 556h31v1h-31zM636 557h31v1h-31zM637 558h30v1h-30zM638 559h29v1h-29zM639 560h28v1h-28zM639 561h28v1h-28zM640 562h27v1h-27zM641 563h26v1h-26zM641 564h26v1h-26zM642 565h25v1h-25zM643 566h24v1h-24zM643 567h24v1h-24zM644 568h23v1h-23zM645 569h22v1h-22zM646 570h21v1h-21zM646 571h21v1h-21zM647 572h20v1h-20zM648 573h19v1h-19zM648 574h19v1h-19zM649 575h18v1h-18zM650 576h17v1h-17zM651 577h16v1h-16zM651 578h16v1h-16zM652 579h15v1h-15zM653 580h14v1h-14zM653 581h14v1h-14zM654 582h13v1h-13zM655 583h12v1h-12zM655 584h12v1h-12zM656 585h11v1h-11zM657 586h10v1h-10zM658 587h9v1h-9zM658 588h9v1h-9zM659 589h8v1h-8zM660 590h7v1h-7zM660 591h7v1h-7zM661 592h6v1h-6zM662 593h5v1h-5zM662 594h5v1h-5zM663 595h4v1h-4zM664 596h3v1h-3zM665 597h2v1h-2zM665 598h2v1h-2zM666 599h1v1h-1z"/>
<path fill="rgba(255,0,0,0.5)" d="M696 543h1v1h-1zM689 544h8v1h-8zM681 545h16v1h-16zM674 546h23v1h-23zM666 547h31v1h-31zM666 548h31v1h-31zM666 549h31v1h-31zM666 550h31v1h-31zM666 551h31v1h-31zM666 552h31v1h-31zM666 553h31v1h-31zM666 554h31v1h-31zM666 555h31v1h-31zM666 556h31v1h-31zM666 557h31v1h-31zM666 558h31v1h-31zM666 559h31v1h-31zM666 560h31v1h-31zM666 561h31v1h-31zM666 562h31v1h-31zM666 563h31v1h-31zM666 564h31v1h-31zM666 565h31v1h-31zM666 566h31v1h-31zM666 567h31v1h-31zM666 568h31v1h-31zM666 569h31v1h-31zM666 570h31v1h-31zM666 571h31v1h-31zM666 572h31v1h-31zM666 573h31v1h-31zM666 574h31v1h-31zM666 575h31v1h-31zM666 576h31v1h-31zM666 577h31v1h-31zM666 578h31v1h-31zM666 579h31v1h-31zM666 580h31v1h-31zM666 581h31v1h-31zM666 582h31v1h-31zM666 583h31v1h-31zM666 584h29v1h-29zM666 585h27v1h-27zM666 586h25v1h-25zM666 587h23v1h-23zM666 588h21v1h-21zM666 589h19v1h-19zM666 590h17v1h-17zM666 591h15v1h-15zM666 592h13v1h-13zM666 593h11v1h-11zM666 594h9v1h-9zM666 595h7v1h-7zM666 596h5v1h-5zM666 597h3v1h-3zM666 598h1v1h-1z"/>
<path fill="rgba(0,0,255,0.5)" d="M666 526h1v1h-1zM666 527h2v1h-2zM666 528h2v1h-2zM666 529h3v1h-3zM666 530h4v1h-4zM666 531h4v1h-4zM666 532h5v1h-5zM666 533h6v1h-6zM666 534h6v1h-6zM666 535h7v1h-7zM666 536h8v1h-8zM666 537h8v1h-8zM666 538h9v1h-9zM666 539h9v1h-9zM666 540h10v1h-10zM666 541h11v1h-11zM666 542h11v1h-11zM666 543h12v1h-12zM666 544h13v1h-13zM666 545h13v1h-13zM666 546h14v1h-14zM666 547h15v1h-15zM666 548h15v1h-15zM666 549h16v1h-16zM666 550h17v1h-17zM666 551h17v1h-17zM666 552h18v1h-18zM666 553h19v1h-19zM666 554h19v1h-19zM666 555h20v1h-20zM666 556h21v1h-21zM666 557h21v1h-21zM666 558h22v1h-22zM666 559h23v1h-23zM666 560h23v1h-23zM666 561h24v1h-24zM666 562h24v1h-24zM666 563h25v1h-25zM666 564h26v1h-26zM666 565h26v1h-26zM666 566h27v1h-27zM666 567h28v1h-28zM666 568h28v1h-28zM666 569h29v1h-29zM666 570h30v1h-30zM666 571h30v1h-30zM666 572h31v1h-31zM666 573h31v1h-31zM666 574h31v1h-31zM666 575h31v1h-31zM666 576h31v1h-31zM666 577h31v1h-31zM666 578h31v1h-31zM666 579h31v1h-31zM666 580h31v1h-31zM666 581h31v1h-31zM666 582h31v1h-31zM666 583h31v1h-31zM666 584h31v1h-31zM666 585h31v1h-31zM666 586h31v1h-31zM666 587h31v1h-31zM666 588h31v1h-31zM666 589h31v1h-31zM666 590h31v1h-31zM666 591h31v1h-31zM666 592h31v1h-31zM666 593h31v1h-31zM666 594h31v1h-31zM666 595h31v1h-31zM666 596h24v1h-24zM666 597h16v1h-16zM666 598h9v1h-9zM666 599h1v1h-1z"/>
<path fill="rgba(255,0,0,0.5)" d="M727 513h1v1h-1zM726 514h2v1h-2zM725 515h3v1h-3zM724 516h4v1h-4zM723 517h5v1h-5zM722 518h6v1h-6zM721 519h7v1h-7zM720 520h8v1h-8zM719 521h9v1h-9zM718 522h10v1h-10zM717 523h11v1h-11zM716 524h12v1h-12zM715 525h13v1h-13zM714 526h14v1h-14zM713 527h15v1h-15zM712 528h16v1h-16zM710 529h18v1h-18zM709 530h19v1h-19zM708 531h20v1h-20zM707 532h21v1h-21zM706 533h22v1h-22zM705 534h23v1h-23zM704 535h24v1h-24zM703 536h25v1h-25zM702 537h26v1h-26zM701 538h27v1h-27zM700 539h28v1h-28zM699 540h29v1h-29zM698 541h30v1h-30zM697 542h31v1h-31zM696 543h32v1h-32zM696 544h32v1h-32zM696 545h32v1h-32zM696 546h32v1h-32zM696 547h32v1h-32zM696 548h32v1h-32zM696 549h32v1h-32zM696 550h32v1h-32zM696 551h32v1h-32zM696 552h32v1h-32zM696 553h32v1h-32zM696 554h32v1h-32zM696 555h32v1h-32zM696 556h32v1h-32zM696 557h32v1h-32zM696 558h32v1h-32zM696 559h32v1h-32zM696 560h32v1h-32zM696 561h32v1h-32zM696 562h32v1h-32zM696 563h32v1h-32zM696 564h32v1h-32zM696 565h32v1h-32zM696 566h32v1h-32zM696 567h32v1h-32zM696 568h32v1h-32zM696 569h32v1h-32zM696 570h32v1h-32zM696 571h32v1h-32zM696 572h32v1h-32zM696 573h32v1h-32zM696 574h32v1h-32zM696 575h32v1h-32zM696 576h32v1h-32zM696 577h32v1h-32zM696 578h32v1h-32zM696 579h32v1h-32zM696 580h32v1h-32zM696 581h32v1h-32zM696 582h32v1h-32zM696 583h32v1h-32zM701 584h27v1h-27zM706 585h22v1h-22zM712 586h16v1h-16zM717 587h11v1h-11zM722 588h6v1h-6zM727 589h1v1h-1z"/>
<path fill="rgba(0,0,255,0.5)" d="M727 501h1v1h-1zM727 502h1v1h-1zM726 503h2v1h-2zM726 504h2v1h-2zM725 505h3v1h-3zM725 506h3v1h-3zM724 507h4v1h-4zM724 508h4v1h-4zM724 509h4v1h-4zM723 510h5v1h-5zM723 511h5v1h-5zM722 512h6v1h-6zM722 513h6v1h-6zM721 514h7v1h-7zM721 515h7v1h-7zM720 516h8v1h-8zM720 517h8v1h-8zM720 518h8v1h-8zM719 519h9v1h-9zM719 520h9v1h-9zM718 521h10v1h-10zM718 522h10v1h-10zM717 523h11v1h-11zM717 524h11v1h-11zM717 525h11v1h-11zM716 526h12v1h-12zM716 527h12v1h-12zM715 528h13v1h-13zM715 529h13v1h-13zM714 530h14v1h-14zM714 531h14v1h-14zM713 532h15v1h-15zM713 533h15v1h-15zM713 534h15v1h-15zM712 535h16v1h-16zM712 536h16v1h-16zM711 537h17v1h-17zM711 538h17v1h-17zM710 539h18v1h-18zM710 540h18v1h-18zM710 541h18v1h-18zM709 542h19v1h-19zM709 543h19v1h-19zM708 544h20v1h-20zM708 545h20v1h-20zM707 546h21v1h-21zM707 547h21v1h-21zM706 548h22v1h-22zM706 549h22v1h-22zM706 550h22v1h-22zM705 551h23v1h-23zM705 552h23v1h-23zM704 553h24v1h-24zM704 554h24v1h-24zM703 555h25v1h-25zM703 556h25v1h-25zM703 557h25v1h-25zM702 558h26v1h-26zM702 559h26v1h-26zM701 560h27v1h-27zM701 561h27v1h-27zM700 562h28v1h-28zM700 563h28v1h-28zM699 564h29v1h-29zM699 565h29v1h-29zM699 566h29v1h-29zM698 567h30v1h-30zM698 568h30v1h-30zM697 569h31v1h-31zM697 570h31v1h-31zM696 571h32v1h-32zM696 572h32v1h-32zM696 573h32v1h-32zM696 574h32v1h-32zM696 575h32v1h-32zM696 576h32v1h-32zM696 577h32v1h-32zM696 578h32v1h-32zM696 579h32v1h-32zM696 580h32v1h-32zM696 581h32v1h-32zM696 582h32v1h-32zM696 583h32v1h-32zM696 584h32v1h-32zM696 585h32v1h-32zM696 586h32v1h-32zM696 587h32v1h-32zM696 588h32v1h-32zM696 589h32v1h-32zM696 590h32v1h-32zM696 591h32v1h-32zM696 592h32v1h-32zM696 593h32v1h-32zM696 594h32v1h-32zM696 595h32v1h-32zM702 596h26v1h-26zM708 597h20v1h-20zM715 598h13v1h-13zM721 599h7v1h-7zM727 600h1v1h-1z"/>
<path fill="rgba(255,0,0,0.5)" d="M758 485h1v1h-1zM757 486h2v1h-2zM756 487h3v1h-3zM755 488h4v1h-4zM754 489h5v1h-5zM752 490h7v1h-7zM751 491h8v1h-8zM750 492h9v1h-9zM749 493h10v1h-10zM748 494h11v1h-11zM747 495h12v1h-12zM746 496h13v1h-13zM745 497h14v1h-14zM744 498h15v1h-15zM743 499h16v1h-16zM741 500h18v1h-18zM740 501h19v1h-19zM739 502h20v1h-20zM738 503h21v1h-21zM737 504h22v1h-22zM736 505h23v1h-23zM735 506h24v1h-24zM734 507h25v1h-25zM733 508h26v1h-26zM731 509h28v1h-28zM730 510h29v1h-29zM729 511h30v1h-30zM728 512h31v1h-31zM727 513h32v1h-32zM727 514h32v1h-32zM727 515h32v1h-32zM727 516h32v1h-32zM727 517h32v1h-32zM727 518h32v1h-32zM727 519h32v1h-32zM727 520h32v1h-32zM727 521h32v1h-32zM727 522h32v1h-32zM727 523h32v1h-32zM727 524h32v1h-32zM727 525h32v1h-32zM727 526h32v1h-32zM727 527h32v1h-32zM727 528h32v1h-32zM727 529h32v1h-32zM727 530h32v1h-32zM727 531h32v1h-32zM727 532h32v1h-32zM727 533h32v1h-32zM727 534h32v1h-32zM727 535h32v1h-32zM727 536h32v1h-32zM727 537h31v1h-31zM727 538h31v1h-31zM727 539h30v1h-30zM727 540h30v1h-30zM727 541h29v1h-29zM727 542h28v1h-28zM727 543h28v1h-28zM727 544h27v1h-27zM727 545h27v1h-27zM727 546h26v1h-26zM727 547h26v1h-26zM727 548h25v1h-25zM727 549h24v1h-24zM727 550h24v1h-24zM727 551h23v1h-23zM727 552h23v1h-23zM727 553h22v1h-22zM727 554h21v1h-21zM727 555h21v1h-21zM727 556h20v1h-20zM727 557h20v1h-20zM727 558h19v1h-19zM727 559h19v1h-19zM727 560h18v1h-18zM727 561h17v1h-17zM727 562h17v1h-17zM727 563h16v1h-16zM727 564h16v1h-16zM727 565h15v1h-15zM727 566h14v1h-14zM727 567h14v1h-14zM727 568h13v1h-13zM727 569h13v1h-13zM727 570h12v1h-12zM727 571h12v1h-12zM727 572h11v1h-11zM727 573h10v1h-10zM727 574h10v1h-10zM727 575h9v1h-9zM727 576h9v1h-9zM727 577h8v1h-8zM727 578h7v1h-7zM727 579h7v1h-7zM727 580h6v1h-6zM727 581h6v1h-6zM727 582h5v1h-5zM727 583h5v1h-5zM727 584h4v1h-4zM727 585h3v1h-3zM727 586h3v1h-3zM727 587h2v1h-2zM727 588h2v1h-2zM727 589h1v1h-1z"/>
<path fill="rgba(0,0,255,0.5)" d="M758 495h1v1h-1zM753 496h6v1h-6zM748 497h11v1h-11zM743 498h16v1h-16zM737 499h22v1h-22zM732 500h27v1h-27zM727 501h32v1h-32zM727 502h32v1h-32zM727 503h32v1h-32zM727 504h32v1h-32zM727 505h32v1h-32zM727 506h32v1h-32zM727 507h32v1h-32zM727 508h32v1h-32zM727 509h32v1h-32zM727 510h32v1h-32zM727 511h32v1h-32zM727 512h32v1h-32zM727 513h32v1h-32zM727 514h32v1h-32zM727 515h32v1h-32zM727 516h32v1h-32zM727 517h32v1h-32zM727 518h32v1h-32zM727 519h32v1h-32zM727 520h32v1h-32zM727 521h32v1h-32zM727 522h32v1h-32zM727 523h32v1h-32zM727 524h32v1h-32zM727 525h32v1h-32zM727 526h32v1h-32zM727 527h32v1h-32zM727 528h32v1h-32zM727 529h31v1h-31zM727 530h31v1h-31zM727 531h30v1h-30zM727 532h30v1h-30zM727 533h29v1h-29zM727 534h29v1h-29zM727 535h29v1h-29zM727 536h28v1h-28zM727 537h28v1h-28zM727 538h27v1h-27zM727 539h27v1h-27zM727 540h26v1h-26zM727 541h26v1h-26zM727 542h26v1h-26zM727 543h25v1h-25zM727 544h25v1h-25zM727 545h24v1h-24zM727 546h24v1h-24zM727 547h24v1h-24zM727 548h23v1h-23zM727 549h23v1h-23zM727 550h22v1h-22zM727 551h22v1h-22zM727 552h21v1h-21zM727 553h21v1h-21zM727 554h21v1h-21zM727 555h20v1h-20zM727 556h20v1h-20zM727 557h19v1h-19zM727 558h19v1h-19zM727 559h18v1h-18zM727 560h18v1h-18zM727 561h18v1h-18zM727 562h17v1h-17zM727 563h17v1h-17zM727 564h16v1h-16zM727 565h16v1h-16zM727 566h15v1h-15zM727 567h15v1h-15zM727 568h15v1h-15zM727 569h14v1h-14zM727 570h14v1h-14zM727 571h13v1h-13zM727 572h13v1h-13zM727 573h12v1h-12zM727 574h12v1h-12zM727 575h12v1h-12zM727 576h11v1h-11zM727 577h11v1h-11zM727 578h10v1h-10zM727 579h10v1h-10zM727 580h9v1h-9zM727 581h9v1h-9zM727 582h9v1h-9zM727 583h8v1h-8zM727 584h8v1h-8zM727 585h7v1h-7zM727 586h7v1h-7zM727 587h7v1h-7zM727 588h6v1h-6zM727 589h6v1h-6zM727 590h5v1h-5zM727 591h5v1h-5zM727 592h4v1h-4zM727 593h4v1h-4zM727 594h4v1h-4zM727 595h3v1h-3zM727 596h3v1h-3zM727 597h2v1h-2zM727 598h2v1h-2zM727 599h1v1h-1zM727 600h1v1h-1z"/>
<path fill="rgba(255,0,0,0.5)" d="M789 479h1v1h-1zM784 480h6v1h-6zM779 481h11v1h-11zM774 482h16v1h-16zM768 483h22v1h-22zM763 484h27v1h-27zM758 485h32v1h-32zM758 486h32v1h-32zM758 487h32v1h-32zM758 488h32v1h-32zM758 489h32v1h-32zM758 490h32v1h-32zM758 491h32v1h-32zM758 492h32v1h-32zM758 493h32v1h-32zM758 494h32v1h-32zM758 495h32v1h-32zM758 496h32v1h-32zM758 497h32v1h-32zM758 498h32v1h-32zM758 499h32v1h-32zM758 500h32v1h-32zM758 501h32v1h-32zM758 502h32v1h-32zM758 503h32v1h-32zM758 504h32v1h-32zM758 505h32v1h-32zM758 506h32v1h-32zM758 507h32v1h-32zM758 508h32v1h-32zM758 509h32v1h-32zM758 510h32v1h-32zM758 511h32v1h-32zM758 512h31v1h-31zM758 513h30v1h-30zM758 514h28v1h-28zM758 515h27v1h-27zM758 516h26v1h-26zM758 517h25v1h-25zM758 518h23v1h-23zM758 519h22v1h-22zM758 520h21v1h-21zM758 521h20v1h-20zM758 522h18v1h-18zM758 523h17v1h-17zM758 524h16v1h-16zM758 525h15v1h-15zM758 526h13v1h-13zM758 527h12v1h-12zM758 528h11v1h-11zM758 529h10v1h-10zM758 530h8v1h-8zM758 531h7v1h-7zM758 532h6v1h-6zM758 533h5v1h-5zM758 534h3v1h-3zM758 535h2v1h-2zM758 536h1v1h-1z"/>
<path fill="rgba(0,0,255,0.5)" d="M789 486h1v1h-1zM786 487h4v1h-4zM782 488h8v1h-8zM779 489h11v1h-11zM775 490h15v1h-15zM772 491h18v1h-18zM768 492h22v1h-22zM765 493h25v1h-25zM761 494h29v1h-29zM758 495h32v1h-32zM758 496h32v1h-32zM758 497h32v1h-32zM758 498h32v1h-32zM758 499h32v1h-32zM758 500h32v1h-32zM758 501h32v1h-32zM758 502h32v1h-32zM758 503h32v1h-32zM758 504h32v1h-32zM758 505h32v1h-32zM758 506h32v1h-32zM758 507h32v1h-32zM758 508h32v1h-32zM758 509h32v1h-32zM758 510h32v1h-32zM758 511h32v1h-32zM758 512h30v1h-30zM758 513h28v1h-28zM758 514h26v1h-26zM758 515h24v1h-24zM758 516h22v1h-22zM758 517h20v1h-20zM758 518h18v1h-18zM758 519h17v1h-17zM758 520h15v1h-15zM758 521h13v1h-13zM758 522h11v1h-11zM758 523h9v1h-9zM758 524h7v1h-7zM758 525h5v1h-5zM758 526h3v1h-3zM758 527h1v1h-1z"/>
<path fill="rgba(255,0,0,0.5)" d="M820 468h1v1h-1zM817 469h4v1h-4zM814 470h7v1h-7zM812 471h9v1h-9zM809 472h12v1h-12zM806 473h15v1h-15zM803 474h18v1h-18zM800 475h21v1h-21zM797 476h24v1h-24zM795 477h26v1h-26zM792 478h29v1h-29zM789 479h32v1h-32zM789 480h32v1h-32zM789 481h32v1h-32zM789 482h32v1h-32zM789 483h32v1h-32zM789 484h32v1h-32zM789 485h32v1h-32zM789 486h32v1h-32zM789 487h32v1h-32zM789 488h32v1h-32zM789 489h32v1h-32zM789 490h32v1h-32zM789 491h32v1h-32zM789 492h32v1h-32zM789 493h32v1h-32zM789 494h32v1h-32zM789 495h32v1h-32zM789 496h32v1h-32zM789 497h32v1h-32zM789 498h32v1h-32zM789 499h32v1h-32zM789 500h32v1h-32zM789 501h32v1h-32zM789 502h32v1h-32zM789 503h32v1h-32zM789 504h32v1h-32zM789 505h32v1h-32zM789 506h32v1h-32zM789 507h26v1h-26zM789 508h20v1h-20zM789 509h13v1h-13zM789 510h7v1h-7zM789 511h1v1h-1z"/>
<path fill="rgba(0,0,255,0.5)" d="M820 476h1v1h-1zM817 477h4v1h-4zM814 478h7v1h-7zM811 479h10v1h-10zM808 480h13v1h-13zM805 481h16v1h-16zM801 482h20v1h-20zM798 483h23v1h-23zM795 484h26v1h-26zM792 485h29v1h-29zM789 486h32v1h-32zM789 487h32v1h-32zM789 488h32v1h-32zM789 489h32v1h-32zM789 490h32v1h-32zM789 491h32v1h-32zM789 492h32v1h-32zM789 493h32v1h-32zM789 494h32v1h-32zM789 495h32v1h-32zM789 496h32v1h-32zM789 497h32v1h-32zM789 498h32v1h-32zM789 499h32v1h-32zM789 500h32v1h-32zM789 501h32v1h-32zM789 502h32v1h-32zM789 503h32v1h-32zM789 504h32v1h-32zM789 505h32v1h-32zM789 506h32v1h-32zM789 507h32v1h-32zM789 508h32v1h-32zM789 509h32v1h-32zM789 510h32v1h-32zM789 511h1v1h-1z"/>
<path fill="rgba(255,0,0,0.5)" d="M820 468h31v1h-31zM820 469h31v1h-31zM820 470h31v1h-31zM820 471h31v1h-31zM820 472h31v1h-31zM820 473h31v1h-31zM820 474h31v1h-31zM820 475h31v1h-31zM820 476h31v1h-31zM820 477h31v1h-31zM820 478h31v1h-31zM820 479h31v1h-31zM820 480h31v1h-31zM820 481h31v1h-31zM820 482h31v1h-31zM820 483h31v1h-31zM820 484h31v1h-31zM820 485h31v1h-31zM820 486h31v1h-31zM820 487h31v1h-31zM820 488h31v1h-31zM820 489h31v1h-31zM820 490h31v1h-31zM820 491h31v1h-31zM820 492h31v1h-31zM820 493h31v1h-31zM820 494h31v1h-31zM820 495h31v1h-31zM820 496h31v1h-31zM820 497h31v1h-31zM820 498h31v1h-31zM820 499h31v1h-31zM820 500h31v1h-31zM820 501h31v1h-31zM820 502h31v1h-31zM820 503h31v1h-31zM820 504h31v1h-31zM820 505h31v1h-31zM820 506h31v1h-31z"/>
<path fill="rgba(0,0,255,0.5)" d="M850 466h1v1h-1zM847 467h4v1h-4zM844 468h7v1h-7zM841 469h10v1h-10zM838 470h13v1h-13zM835 471h16v1h-16zM832 472h19v1h-19zM829 473h22v1h-22zM826 474h25v1h-25zM823 475h28v1h-28zM820 476h31v1h-31zM820 477h31v1h-31zM820 478h31v1h-31zM820 479h31v1h-31zM820 480h31v1h-31zM820 481h31v1h-31zM820 482h31v1h-31zM820 483h31v1h-31zM820 484h31v1h-31zM820 485h31v1h-31zM820 486h31v1h-31zM820 487h31v1h-31zM820 488h31v1h-31zM820 489h31v1h-31zM820 490h31v1h-31zM820 491h31v1h-31zM820 492h31v1h-31zM820 493h31v1h-31zM820 494h31v1h-31zM820 495h31v1h-31zM820 496h31v1h-31zM820 497h31v1h-31zM820 498h31v1h-31zM820 499h31v1h-31zM820 500h31v1h-31zM820 501h31v1h-31zM820 502h31v1h-31zM820 503h31v1h-31zM820 504h31v1h-31zM820 505h31v1h-31zM820 506h31v1h-31zM820 507h31v1h-31zM820 508h21v1h-21zM820 509h11v1h-11zM820 510h1v1h-1z"/>
<path fill="rgba(255,0,0,0.5)" d="M850 468h1v1h-1zM850 469h5v1h-5zM850 470h10v1h-10zM850 471h14v1h-14zM850 472h19v1h-19zM850 473h23v1h-23zM850 474h28v1h-28zM850 475h32v1h-32zM850 476h32v1h-32zM850 477h32v1h-32zM850 478h32v1h-32zM850 479h32v1h-32zM850 480h32v1h-32zM850 481h32v1h-32zM850 482h32v1h-32zM850 483h32v1h-32zM850 484h32v1h-32zM850 485h32v1h-32zM850 486h32v1h-32zM850 487h32v1h-32zM850 488h32v1h-32zM850 489h32v1h-32zM850 490h32v1h-32zM850 491h32v1h-32zM850 492h32v1h-32zM850 493h32v1h-32zM850 494h32v1h-32zM850 495h32v1h-32zM850 496h32v1h-32zM850 497h32v1h-32zM850 498h32v1h-32zM850 499h32v1h-32zM850 500h32v1h-32zM850 501h32v1h-32zM850 502h32v1h-32zM850 503h32v1h-32zM850 504h22v1h-22zM850 505h11v1h-11zM850 506h1v1h-1z"/>
<path fill="rgba(0,0,255,0.5)" d="M850 466h1v1h-1zM850 467h3v1h-3zM850 468h5v1h-5zM850 469h8v1h-8zM850 470h10v1h-10zM850 471h12v1h-12zM850 472h14v1h-14zM850 473h17v1h-17zM850 474h19v1h-19zM850 475h21v1h-21zM850 476h23v1h-23zM850 477h25v1h-25zM850 478h28v1h-28zM850 479h30v1h-30zM850 480h32v1h-32zM850 481h32v1h-32zM850 482h32v1h-32zM850 483h32v1h-32zM850 484h32v1h-32zM850 485h32v1h-32zM850 486h32v1h-32zM850 487h32v1h-32zM850 488h32v1h-32zM850 489h32v1h-32zM850 490h32v1h-32zM850 491h32v1h-32zM850 492h32v1h-32zM850 493h32v1h-32zM850 494h32v1h-32zM850 495h32v1h-32zM850 496h32v1h-32zM850 497h29v1h-29zM850 498h26v1h-26zM850 499h24v1h-24zM850 500h21v1h-21zM850 501h18v1h-18zM850 502h15v1h-15zM850 503h12v1h-12zM850 504h9v1h-9zM850 505h7v1h-7zM850 506h4v1h-4zM850 507h1v1h-1z"/>
<path fill="rgba(255,0,0,0.5)" d="M912 453h1v1h-1zM911 454h2v1h-2zM909 455h4v1h-4zM908 456h5v1h-5zM906 457h7v1h-7zM905 458h8v1h-8zM904 459h9v1h-9zM902 460h11v1h-11zM901 461h12v1h-12zM899 462h14v1h-14zM898 463h15v1h-15zM897 464h16v1h-16zM895 465h18v1h-18zM894 466h19v1h-19zM892 467h21v1h-21zM891 468h22v1h-22zM889 469h24v1h-24zM888 470h25v1h-25zM887 471h26v1h-26zM885 472h28v1h-28zM884 473h29v1h-29zM882 474h31v1h-31zM881 475h32v1h-32zM881 476h32v1h-32zM881 477h32v1h-32zM881 478h32v1h-32zM881 479h32v1h-32zM881 480h32v1h-32zM881 481h32v1h-32zM881 482h32v1h-32zM881 483h32v1h-32zM881 484h32v1h-32zM881 485h32v1h-32zM881 486h32v1h-32zM881 487h32v1h-32zM881 488h32v1h-32zM881 489h32v1h-32zM881 490h32v1h-32zM881 491h32v1h-32zM881 492h32v1h-32zM881 493h32v1h-32zM881 494h32v1h-32zM881 495h32v1h-32zM881 496h32v1h-32zM881 497h32v1h-32zM881 498h32v1h-32zM881 499h32v1h-32zM881 500h32v1h-32zM881 501h32v1h-32zM881 502h32v1h-32zM881 503h1v1h-1z"/>
<path fill="rgba(0,0,255,0.5)" d="M912 453h1v1h-1zM911 454h2v1h-2zM910 455h3v1h-3zM909 456h4v1h-4zM907 457h6v1h-6zM906 458h7v1h-7zM905 459h8v1h-8zM904 460h9v1h-9zM903 461h10v1h-10zM902 462h11v1h-11zM901 463h12v1h-12zM899 464h14v1h-14zM898 465h15v1h-15zM897 466h16v1h-16zM896 467h17v1h-17zM895 468h18v1h-18zM894 469h19v1h-19zM892 470h21v1h-21zM891 471h22v1h-22zM890 472h23v1h-23zM889 473h24v1h-24zM888 474h25v1h-25zM887 475h26v1h-26zM886 476h27v1h-27zM884 477h29v1h-29zM883 478h30v1h-30zM882 479h31v1h-31zM881 480h32v1h-32zM881 481h32v1h-32zM881 482h32v1h-32zM881 483h32v1h-32zM881 484h32v1h-32zM881 485h32v1h-32zM881 486h32v1h-32zM881 487h32v1h-32zM881 488h32v1h-32zM881 489h32v1h-32zM881 490h32v1h-32zM881 491h32v1h-32zM881 492h32v1h-32zM881 493h32v1h-32zM881 494h32v1h-32zM881 495h32v1h-32zM881 496h32v1h-32zM887 497h26v1h-26zM893 498h20v1h-20zM900 499h13v1h-13zM906 500h7v1h-7zM912 501h1v1h-1z"/>
<path fill="rgba(255,0,0,0.5)" d="M943 445h1v1h-1zM939 446h5v1h-5zM935 447h9v1h-9zM931 448h13v1h-13zM928 449h16v1h-16zM924 450h20v1h-20zM920 451h24v1h-24zM916 452h28v1h-28zM912 453h32v1h-32zM912 454h32v1h-32zM912 455h32v1h-32zM912 456h32v1h-32zM912 457h32v1h-32zM912 458h32v1h-32zM912 459h32v1h-32zM912 460h32v1h-32zM912 461h32v1h-32zM912 462h32v1h-32zM912 463h32v1h-32zM912 464h32v1h-32zM912 465h32v1h-32zM912 466h32v1h-32zM912 467h32v1h-32zM912 468h32v1h-32zM912 469h32v1h-32zM912 470h32v1h-32zM912 471h32v1h-32zM912 472h32v1h-32zM912 473h32v1h-32zM912 474h32v1h-32zM912 475h32v1h-32zM912 476h32v1h-32zM912 477h32v1h-32zM912 478h32v1h-32zM912 479h32v1h-32zM912 480h32v1h-32zM912 481h32v1h-32zM912 482h32v1h-32zM912 483h32v1h-32zM912 484h32v1h-32zM912 485h32v1h-32zM912 486h32v1h-32zM912 487h32v1h-32zM912 488h32v1h-32zM912 489h32v1h-32zM912 490h32v1h-32zM912 491h32v1h-32zM912 492h32v1h-32zM912 493h32v1h-32zM912 494h32v1h-32zM912 495h32v1h-32zM912 496h32v1h-32zM912 497h32v1h-32zM912 498h32v1h-32zM912 499h32v1h-32zM912 500h32v1h-32zM912 501h32v1h-32zM912 502h32v1h-32zM920 503h24v1h-24zM928 504h16v1h-16zM935 505h9v1h-9zM943 506h1v1h-1z"/>
<path fill="rgba(0,0,255,0.5)" d="M912 453h32v1h-32zM912 454h32v1h-32zM912 455h32v1h-32zM912 456h32v1h-32zM912 457h32v1h-32zM912 458h32v1h-32zM912 459h32v1h-32zM912 460h32v1h-32zM912 461h32v1h-32zM912 462h32v1h-32zM912 463h32v1h-32zM912 464h32v1h-32zM912 465h32v1h-32zM912 466h32v1h-32zM912 467h32v1h-32zM912 468h32v1h-32zM912 469h32v1h-32zM912 470h32v1h-32zM912 471h32v1h-32zM912 472h32v1h-32zM912 473h32v1h-32zM912 474h32v1h-32zM912 475h32v1h-32zM912 476h32v1h-32zM912 477h32v1h-32zM912 478h32v1h-32zM912 479h32v1h-32zM912 480h32v1h-32zM912 481h32v1h-32zM912 482h32v1h-32zM912 483h32v1h-32zM912 484h32v1h-32zM912 485h32v1h-32zM912 486h32v1h-32zM912 487h32v1h-32zM912 488h32v1h-32zM912 489h32v1h-32zM912 490h32v1h-32zM912 491h32v1h-32zM912 492h32v1h-32zM912 493h32v1h-32zM912 494h32v1h-32zM912 495h32v1h-32zM912 496h32v1h-32zM912 497h32v1h-32zM912 498h32v1h-32zM912 499h32v1h-32zM912 500h32v1h-32zM912 501h32v1h-32zM943 502h1v1h-1z"/>
<path fill="rgba(255,0,0,0.5)" d="M943 445h1v1h-1zM943 446h2v1h-2zM943 447h4v1h-4zM943 448h5v1h-5zM943 449h6v1h-6zM943 450h7v1h-7zM943 451h9v1h-9zM943 452h10v1h-10zM943 453h11v1h-11zM943 454h13v1h-13zM943 455h14v1h-14zM943 456h15v1h-15zM943 457h17v1h-17zM943 458h18v1h-18zM943 459h19v1h-19zM943 460h20v1h-20zM943 461h22v1h-22zM943 462h23v1h-23zM943 463h24v1h-24zM943 464h26v1h-26zM943 465h27v1h-27zM943 466h28v1h-28zM943 467h29v1h-29zM943 468h31v1h-31zM943 469h32v1h-32zM943 470h32v1h-32zM943 471h32v1h-32zM943 472h32v1h-32zM943 473h32v1h-32zM943 474h32v1h-32zM943 475h32v1h-32zM943 476h32v1h-32zM943 477h32v1h-32zM943 478h32v1h-32zM943 479h32v1h-32zM943 480h32v1h-32zM943 481h32v1h-32zM943 482h32v1h-32zM943 483h32v1h-32zM943 484h32v1h-32zM943 485h32v1h-32zM943 486h32v1h-32zM943 487h32v1h-32zM943 488h32v1h-32zM943 489h32v1h-32zM943 490h32v1h-32zM943 491h32v1h-32zM943 492h32v1h-32zM943 493h32v1h-32zM943 494h32v1h-32zM943 495h32v1h-32zM943 496h32v1h-32zM943 497h32v1h-32zM943 498h32v1h-32zM943 499h32v1h-32zM943 500h32v1h-32zM943 501h32v1h-32zM943 502h32v1h-32zM943 503h32v1h-32zM943 504h32v1h-32zM943 505h32v1h-32zM943 506h32v1h-32zM944 507h31v1h-31zM945 508h30v1h-30zM947 509h28v1h-28zM948 510h27v1h-27zM949 511h26v1h-26zM950 512h25v1h-25zM951 513h24v1h-24zM953 514h22v1h-22zM954 515h21v1h-21zM955 516h20v1h-20zM956 517h19v1h-19zM957 518h18v1h-18zM959 519h16v1h-16zM960 520h15v1h-15zM961 521h14v1h-14zM962 522h13v1h-13zM963 523h12v1h-12zM964 524h11v1h-11zM966 525h9v1h-9zM967 526h8v1h-8zM968 527h7v1h-7zM969 528h6v1h-6zM970 529h5v1h-5zM972 530h3v1h-3zM973 531h2v1h-2zM974 532h1v1h-1z"/>
<path fill="rgba(0,0,255,0.5)" d="M943 453h32v1h-32zM943 454h32v1h-32zM943 455h32v1h-32zM943 456h32v1h-32zM943 457h32v1h-32zM943 458h32v1h-32zM943 459h32v1h-32zM943 460h32v1h-32zM943 461h32v1h-32zM943 462h32v1h-32zM943 463h32v1h-32zM943 464h32v1h-32zM943 465h32v1h-32zM943 466h32v1h-32zM943 467h32v1h-32zM943 468h32v1h-32zM943 469h32v1h-32zM943 470h32v1h-32zM943 471h32v1h-32zM943 472h32v1h-32zM943 473h32v1h-32zM943 474h32v1h-32zM943 475h32v1h-32zM943 476h32v1h-32zM943 477h32v1h-32zM943 478h32v1h-32zM943 479h32v1h-32zM943 480h32v1h-32zM943 481h32v1h-32zM943 482h32v1h-32zM943 483h32v1h-32zM943 484h32v1h-32zM943 485h32v1h-32zM943 486h32v1h-32zM943 487h32v1h-32zM943 488h32v1h-32zM943 489h32v1h-32zM943 490h32v1h-32zM943 491h32v1h-32zM943 492h32v1h-32zM943 493h32v1h-32zM943 494h32v1h-32zM943 495h32v1h-32zM943 496h32v1h-32zM943 497h32v1h-32zM943 498h32v1h-32zM943 499h32v1h-32zM943 500h32v1h-32zM943 501h32v1h-32zM943 502h32v1h-32zM944 503h31v1h-31zM945 504h30v1h-30zM947 505h28v1h-28zM948 506h27v1h-27zM949 507h26v1h-26zM950 508h25v1h-25zM952 509h23v1h-23zM953 510h22v1h-22zM954 511h21v1h-21zM955 512h20v1h-20zM957 513h18v1h-18zM958 514h17v1h-17zM959 515h16v1h-16zM960 516h15v1h-15zM962 517h13v1h-13zM963 518h12v1h-12zM964 519h11v1h-11zM965 520h10v1h-10zM967 521h8v1h-8zM968 522h7v1h-7zM969 523h6v1h-6zM970 524h5v1h-5zM972 525h3v1h-3zM973 526h2v1h-2zM974 527h1v1h-1z"/>
</g>
</svg>
<svg id="t" width="1024" height="768" viewBox="0 0 1024 768">
<g fill="#000" font-size="14.67">
<text transform="translate(12.6 72) rotate(0.05) scale(1 1.04)" x="0 8 16 22" y="0" >60°C</text><text transform="translate(12.6 115) rotate(0.05) scale(1 1.04)" x="0 8 16 22" y="0" >55°C</text><text transform="translate(12.6 158) rotate(0.05) scale(1 1.04)" x="0 8 16 22" y="0" >50°C</text><text transform="translate(12.6 201) rotate(0.05) scale(1 1.04)" x="0 8 16 22" y="0" >45°C</text><text transform="translate(12.6 243) rotate(0.05) scale(1 1.04)" x="0 8 16 22" y="0" >40°C</text><text transform="translate(12.6 286) rotate(0.05) scale(1 1.04)" x="0 8 16 22" y="0" >35°C</text><text transform="translate(12.6 329) rotate(0.05) scale(1 1.04)" x="0 8 16 22" y="0" >30°C</text><text transform="translate(12.6 372) rotate(0.05) scale(1 1.04)" x="0 8 16 22" y="0" >25°C</text><text transform="translate(12.6 415) rotate(0.05) scale(1 1.04)" x="0 8 16 22" y="0" >20°C</text><text transform="translate(12.6 458) rotate(0.05) scale(1 1.04)" x="8 16 22" y="0" >5°C</text><path transform="translate(12.6 458) scale(0.007163 -0.007450)" d="M763 0H583V1147Q518 1085 412.5 1023Q307 961 223 930V1104Q374 1175 487 1276Q600 1377 647 1472H763V0Z"/><text transform="translate(12.6 501) rotate(0.05) scale(1 1.04)" x="8 16 22" y="0" >0°C</text><path transform="translate(12.6 501) scale(0.007163 -0.007450)" d="M763 0H583V1147Q518 1085 412.5 1023Q307 961 223 930V1104Q374 1175 487 1276Q600 1377 647 1472H763V0Z"/><text transform="translate(20.6 543) rotate(0.05) scale(1 1.04)" x="0 8 14" y="0" >5°C</text><text transform="translate(20.6 586) rotate(0.05) scale(1 1.04)" x="0 8 14" y="0" >0°C</text><text transform="translate(15.6 629) rotate(0.05) scale(1 1.04)" x="0 5 13 19" y="0" >-5°C</text><text transform="translate(7.6 672) rotate(0.05) scale(1 1.04)" x="0 13 21 27" y="0" >-0°C</text><path transform="translate(12.6 672) scale(0.007163 -0.007450)" d="M763 0H583V1147Q518 1085 412.5 1023Q307 961 223 930V1104Q374 1175 487 1276Q600 1377 647 1472H763V0Z"/>
<path transform="translate(48.25 689) scale(0.007163 -0.007450)" d="M763 0H583V1147Q518 1085 412.5 1023Q307 961 223 930V1104Q374 1175 487 1276Q600 1377 647 1472H763V0Z"/><text transform="translate(76.75 689) rotate(0.05) scale(1 1.04)" x="0" y="0" >2</text><text transform="translate(107.75 689) rotate(0.05) scale(1 1.04)" x="0" y="0" >3</text><text transform="translate(138.75 689) rotate(0.05) scale(1 1.04)" x="0" y="0" >4</text><text transform="translate(169.75 689) rotate(0.05) scale(1 1.04)" x="0" y="0" >5</text><text transform="translate(199.75 689) rotate(0.05) scale(1 1.04)" x="0" y="0" >6</text><text transform="translate(230.75 689) rotate(0.05) scale(1 1.04)" x="0" y="0" >7</text><text transform="translate(261.75 689) rotate(0.05) scale(1 1.04)" x="0" y="0" >8</text><text transform="translate(292.75 689) rotate(0.05) scale(1 1.04)" x="0" y="0" >9</text><text transform="translate(320.75 689) rotate(0.05) scale(1 1.04)" x="8" y="0" >0</text><path transform="translate(320.75 689) scale(0.007163 -0.007450)" d="M763 0H583V1147Q518 1085 412.5 1023Q307 961 223 930V1104Q374 1175 487 1276Q600 1377 647 1472H763V0Z"/><path transform="translate(352 689) scale(0.007163 -0.007450)" d="M763 0H583V1147Q518 1085 412.5 1023Q307 961 223 930V1104Q374 1175 487 1276Q600 1377 647 1472H763V0Z"/><path transform="translate(360 689) scale(0.007163 -0.007450)" d="M763 0H583V1147Q518 1085 412.5 1023Q307 961 223 930V1104Q374 1175 487 1276Q600 1377 647 1472H763V0Z"/><text transform="translate(381.75 689) rotate(0.05) scale(1 1.04)" x="8" y="0" >2</text><path transform="translate(381.75 689) scale(0.007163 -0.007450)" d="M763 0H583V1147Q518 1085 412.5 1023Q307 961 223 930V1104Q374 1175 487 1276Q600 1377 647 1472H763V0Z"/><text transform="translate(412.75 689) rotate(0.05) scale(1 1.04)" x="8" y="0" >3</text><path transform="translate(412.75 689) scale(0.007163 -0.007450)" d="M763 0H583V1147Q518 1085 412.5 1023Q307 961 223 930V1104Q374 1175 487 1276Q600 1377 647 1472H763V0Z"/><text transform="translate(443.75 689) rotate(0.05) scale(1 1.04)" x="8" y="0" >4</text><path transform="translate(443.75 689) scale(0.007163 -0.007450)" d="M763 0H583V1147Q518 1085 412.5 1023Q307 961 223 930V1104Q374 1175 487 1276Q600 1377 647 1472H763V0Z"/><text transform="translate(474.75 689) rotate(0.05) scale(1 1.04)" x="8" y="0" >5</text><path transform="translate(474.75 689) scale(0.007163 -0.007450)" d="M763 0H583V1147Q518 1085 412.5 1023Q307 961 223 930V1104Q374 1175 487 1276Q600 1377 647 1472H763V0Z"/><text transform="translate(505.75 689) rotate(0.05) scale(1 1.04)" x="8" y="0" >6</text><path transform="translate(505.75 689) scale(0.007163 -0.007450)" d="M763 0H583V1147Q518 1085 412.5 1023Q307 961 223 930V1104Q374 1175 487 1276Q600 1377 647 1472H763V0Z"/><text transform="translate(535.75 689) rotate(0.05) scale(1 1.04)" x="8" y="0" >7</text><path transform="translate(535.75 689) scale(0.007163 -0.007450)" d="M763 0H583V1147Q518 1085 412.5 1023Q307 961 223 930V1104Q374 1175 487 1276Q600 1377 647 1472H763V0Z"/><text transform="translate(566.75 689) rotate(0.05) scale(1 1.04)" x="8" y="0" >8</text><path transform="translate(566.75 689) scale(0.007163 -0.007450)" d="M763 0H583V1147Q518 1085 412.5 1023Q307 961 223 930V1104Q374 1175 487 1276Q600 1377 647 1472H763V0Z"/><text transform="translate(597.75 689) rotate(0.05) scale(1 1.04)" x="8" y="0" >9</text><path transform="translate(597.75 689) scale(0.007163 -0.007450)" d="M763 0H583V1147Q518 1085 412.5 1023Q307 961 223 930V1104Q374 1175 487 1276Q600 1377 647 1472H763V0Z"/><text transform="translate(627.75 689) rotate(0.05) scale(1 1.04)" x="0 8" y="0" >20</text><text transform="translate(660 689) rotate(0.05) scale(1 1.04)" x="0" y="0" >2</text><path transform="translate(668 689) scale(0.007163 -0.007450)" d="M763 0H583V1147Q518 1085 412.5 1023Q307 961 223 930V1104Q374 1175 487 1276Q600 1377 647 1472H763V0Z"/><text transform="translate(688.75 689) rotate(0.05) scale(1 1.04)" x="0 8" y="0" >22</text><text transform="translate(719.75 689) rotate(0.05) scale(1 1.04)" x="0 8" y="0" >23</text><text transform="translate(750.75 689) rotate(0.05) scale(1 1.04)" x="0 8" y="0" >24</text><text transform="translate(781.75 689) rotate(0.05) scale(1 1.04)" x="0 8" y="0" >25</text><text transform="translate(812.75 689) rotate(0.05) scale(1 1.04)" x="0 8" y="0" >26</text><text transform="translate(842.75 689) rotate(0.05) scale(1 1.04)" x="0 8" y="0" >27</text><text transform="translate(873.75 689) rotate(0.05) scale(1 1.04)" x="0 8" y="0" >28</text><text transform="translate(904.75 689) rotate(0.05) scale(1 1.04)" x="0 8" y="0" >29</text><text transform="translate(935.75 689) rotate(0.05) scale(1 1.04)" x="0 8" y="0" >30</text><text transform="translate(968 689) rotate(0.05) scale(1 1.04)" x="0" y="0" >3</text><path transform="translate(976 689) scale(0.007163 -0.007450)" d="M763 0H583V1147Q518 1085 412.5 1023Q307 961 223 930V1104Q374 1175 487 1276Q600 1377 647 1472H763V0Z"/>
</g>
<text transform="translate(513.3 46) rotate(0.05) scale(1 1.035)" text-anchor="middle" font-size="29.4" fill="#000" stroke="#000" stroke-width="0.5">Température de décembre 2021</text>
<g font-size="14.67">
<text transform="translate(863.948 28) rotate(0.05) scale(1 1.04)" x="0 10.28 13.364 20.56 24.672 32.896 37.008 42.148 54.484 57.568 65.792 69.904 75.044 79.156 91.492 99.716 106.912" y="0" fill="#f00">Piste (min - max)</text>
<text transform="translate(877.6 50) rotate(0.05) scale(1 1.04)" x="0 10.2 13.26 18.36 22.44 27.54 39.78 42.84 51 55.08 60.18 64.26 76.5 84.66 91.8" y="0" fill="#00f">Air (min - max)</text>
</g>
</svg>
</body></html>
